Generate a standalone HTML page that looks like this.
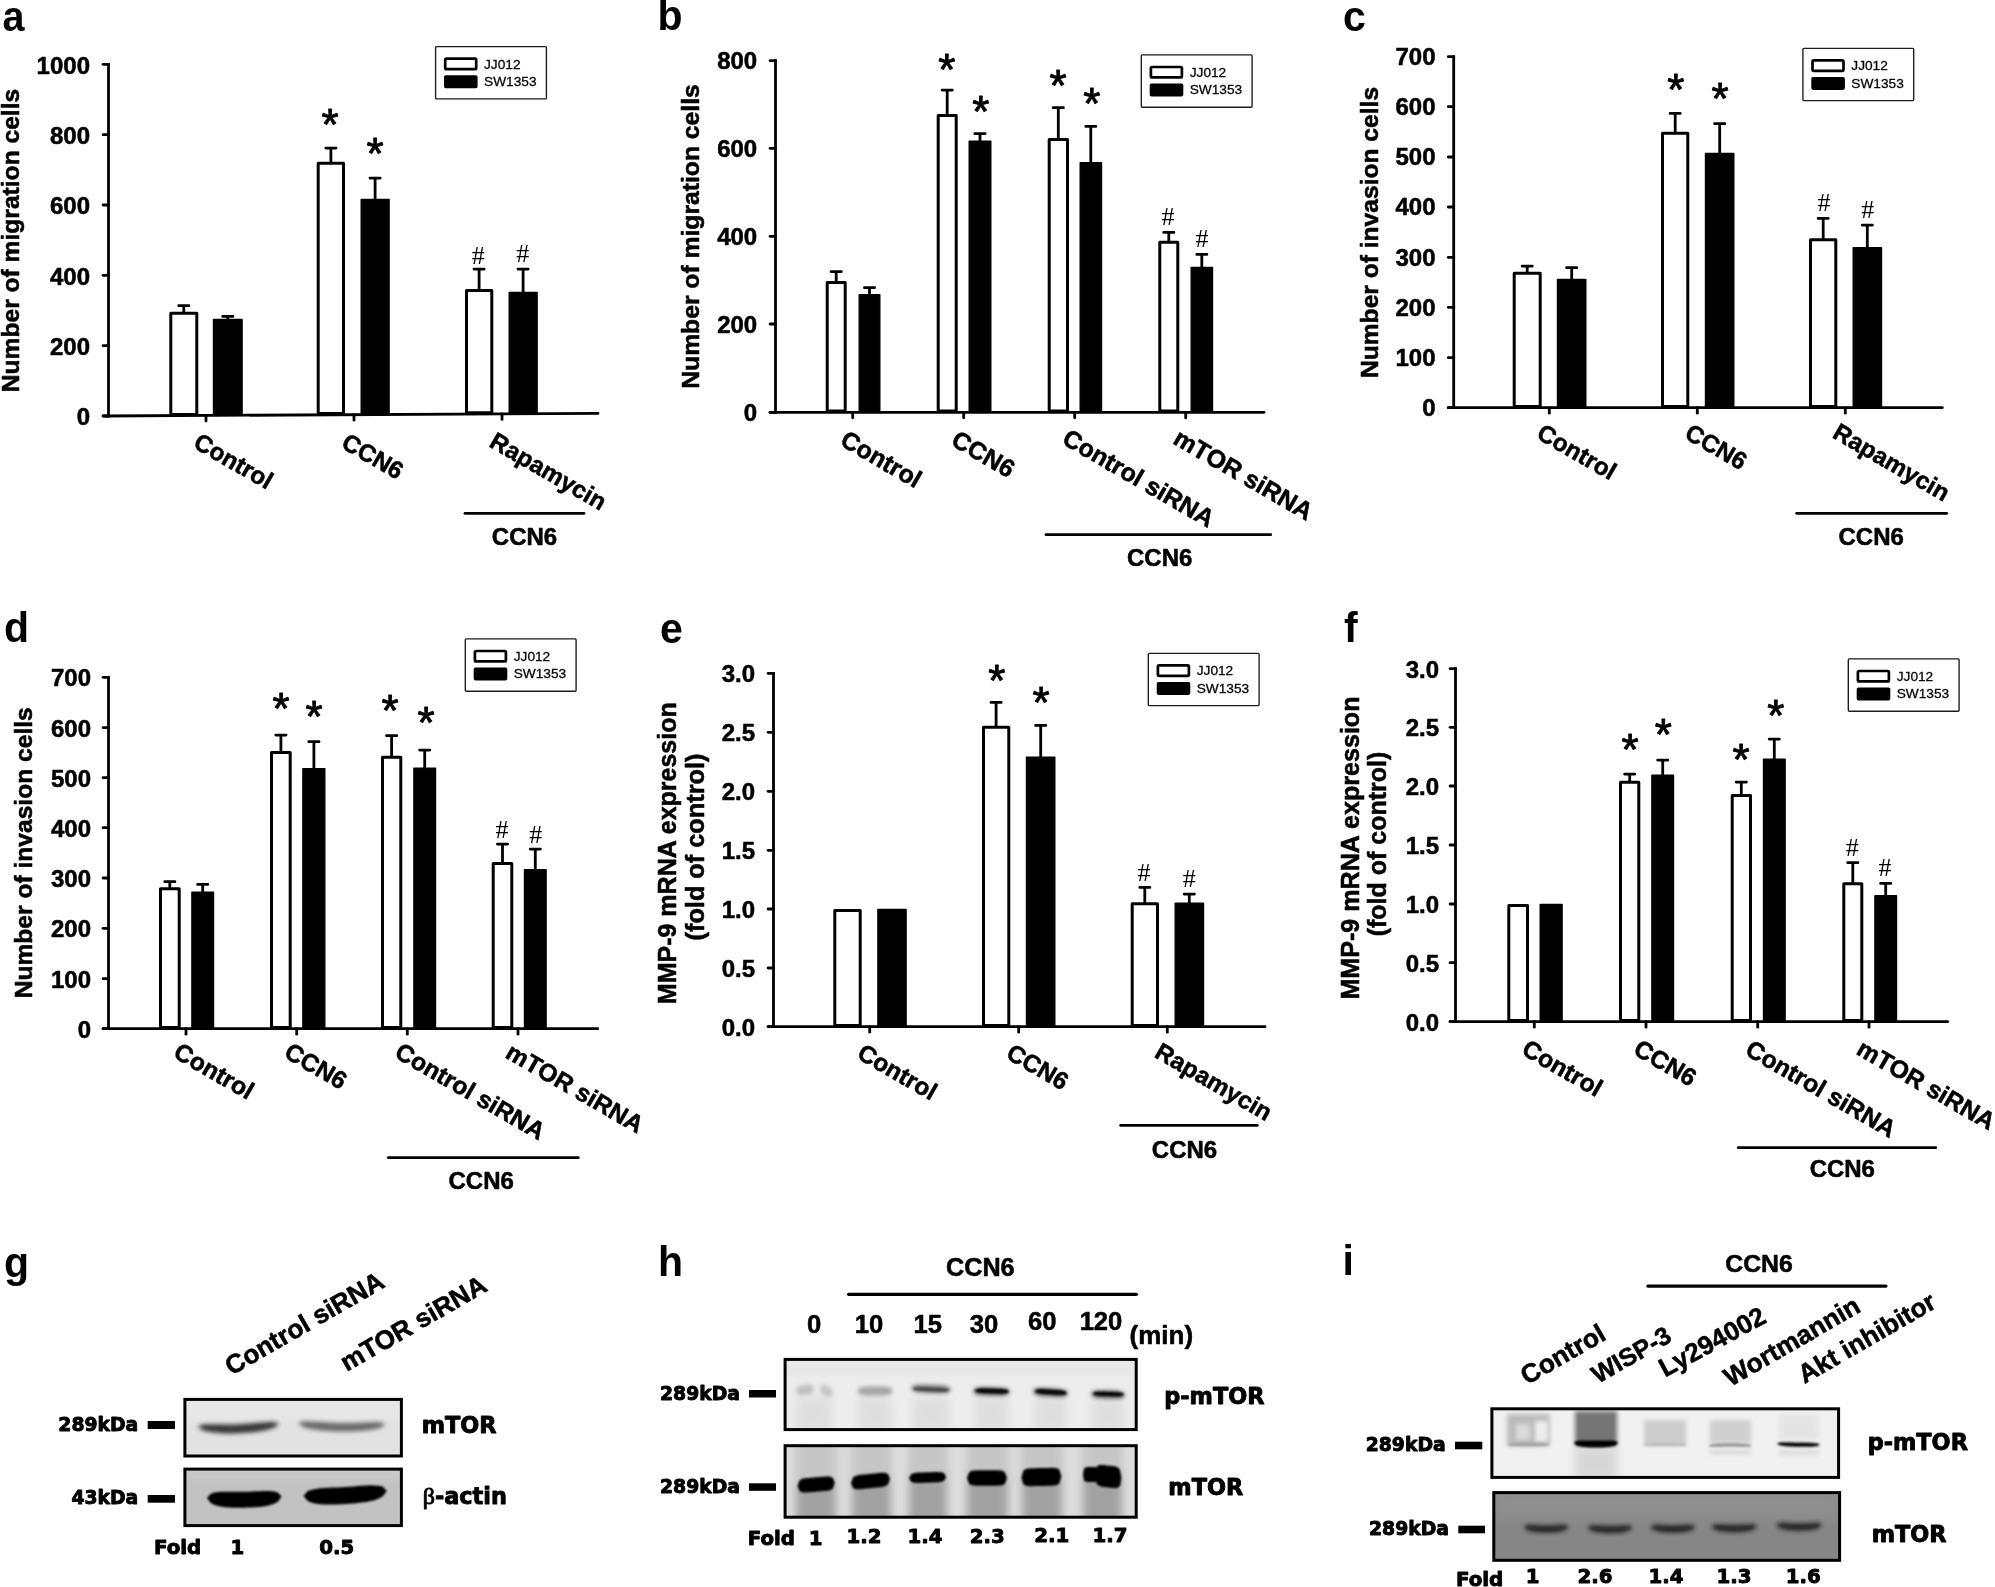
<!DOCTYPE html>
<html lang="en"><head><meta charset="utf-8"><title>Figure</title>
<style>html,body{margin:0;padding:0;background:#fff}svg{display:block}text{fill:#000}</style>
</head><body>
<svg width="1995" height="1587" viewBox="0 0 1995 1587">
<defs>
<filter id="b1" x="-50%" y="-200%" width="200%" height="500%"><feGaussianBlur stdDeviation="1.2"/></filter>
<filter id="b2" x="-50%" y="-200%" width="200%" height="500%"><feGaussianBlur stdDeviation="2.2"/></filter>
<filter id="b3" x="-50%" y="-200%" width="200%" height="500%"><feGaussianBlur stdDeviation="4"/></filter>
<filter id="b6" x="-50%" y="-200%" width="200%" height="500%"><feGaussianBlur stdDeviation="7"/></filter>
<filter id="soft" filterUnits="userSpaceOnUse" x="0" y="0" width="1995" height="1587"><feGaussianBlur stdDeviation="0.45"/></filter>
</defs>
<rect width="1995" height="1587" fill="#fff"/>
<g filter="url(#soft)">
<g id="chart-a">
<path d="M183.8 311.7V305.7M178.7 305.7H188.9" stroke="#000" stroke-width="2.8" stroke-linecap="round" fill="none"/>
<rect x="170.8" y="313.2" width="26.0" height="101.2" fill="#fff" stroke="#000" stroke-width="3.0" stroke-linejoin="round"/>
<path d="M227.8 319.0V316.4M222.7 316.4H232.9" stroke="#000" stroke-width="2.8" stroke-linecap="round" fill="none"/>
<rect x="213.5" y="319.4" width="28.6" height="96.0" fill="#000" stroke="#000" stroke-width="1.4" stroke-linejoin="round"/>
<path d="M330.9 161.7V148.1M325.8 148.1H336.0" stroke="#000" stroke-width="2.8" stroke-linecap="round" fill="none"/>
<rect x="318.2" y="163.2" width="25.3" height="250.4" fill="#fff" stroke="#000" stroke-width="3.0" stroke-linejoin="round"/>
<path d="M375.1 199.0V178.1M370.0 178.1H380.2" stroke="#000" stroke-width="2.8" stroke-linecap="round" fill="none"/>
<rect x="361.2" y="199.4" width="27.9" height="215.2" fill="#000" stroke="#000" stroke-width="1.4" stroke-linejoin="round"/>
<path d="M479.1 289.0V269.1M474.0 269.1H484.2" stroke="#000" stroke-width="2.8" stroke-linecap="round" fill="none"/>
<rect x="466.5" y="290.5" width="25.3" height="122.3" fill="#fff" stroke="#000" stroke-width="3.0" stroke-linejoin="round"/>
<path d="M523.1 292.0V269.1M518.0 269.1H528.2" stroke="#000" stroke-width="2.8" stroke-linecap="round" fill="none"/>
<rect x="509.2" y="292.4" width="27.9" height="121.4" fill="#000" stroke="#000" stroke-width="1.4" stroke-linejoin="round"/>
<path d="M108.5 62.9V417.4" stroke="#000" stroke-width="2.8" fill="none"/>
<path d="M103.1 416.0L598.0 413.4" stroke="#000" stroke-width="2.8" stroke-linecap="round" fill="none"/>
<path d="M103.1 64.3H108.5" stroke="#000" stroke-width="2.8" stroke-linecap="round"/>
<text x="90.0" y="73.6" text-anchor="end" font-size="24" font-family="Liberation Sans, Arial, sans-serif" font-weight="bold" stroke="#000" stroke-width="0.55" stroke-linejoin="round">1000</text>
<path d="M103.1 134.7H108.5" stroke="#000" stroke-width="2.8" stroke-linecap="round"/>
<text x="90.0" y="144.0" text-anchor="end" font-size="24" font-family="Liberation Sans, Arial, sans-serif" font-weight="bold" stroke="#000" stroke-width="0.55" stroke-linejoin="round">800</text>
<path d="M103.1 205.0H108.5" stroke="#000" stroke-width="2.8" stroke-linecap="round"/>
<text x="90.0" y="214.3" text-anchor="end" font-size="24" font-family="Liberation Sans, Arial, sans-serif" font-weight="bold" stroke="#000" stroke-width="0.55" stroke-linejoin="round">600</text>
<path d="M103.1 275.3H108.5" stroke="#000" stroke-width="2.8" stroke-linecap="round"/>
<text x="90.0" y="284.6" text-anchor="end" font-size="24" font-family="Liberation Sans, Arial, sans-serif" font-weight="bold" stroke="#000" stroke-width="0.55" stroke-linejoin="round">400</text>
<path d="M103.1 345.7H108.5" stroke="#000" stroke-width="2.8" stroke-linecap="round"/>
<text x="90.0" y="355.0" text-anchor="end" font-size="24" font-family="Liberation Sans, Arial, sans-serif" font-weight="bold" stroke="#000" stroke-width="0.55" stroke-linejoin="round">200</text>
<path d="M103.1 416.0H108.5" stroke="#000" stroke-width="2.8" stroke-linecap="round"/>
<text x="90.0" y="425.3" text-anchor="end" font-size="24" font-family="Liberation Sans, Arial, sans-serif" font-weight="bold" stroke="#000" stroke-width="0.55" stroke-linejoin="round">0</text>
<path d="M206.0 415.5V421.0" stroke="#000" stroke-width="2.8" stroke-linecap="round"/>
<path d="M354.0 414.7V420.2" stroke="#000" stroke-width="2.8" stroke-linecap="round"/>
<path d="M502.0 413.9V419.4" stroke="#000" stroke-width="2.8" stroke-linecap="round"/>
<text x="330.0" y="140.0" text-anchor="middle" font-size="44" font-family="Liberation Sans, Arial, sans-serif" stroke="#000" stroke-width="0.9" stroke-linejoin="round">*</text>
<text x="375.0" y="169.0" text-anchor="middle" font-size="44" font-family="Liberation Sans, Arial, sans-serif" stroke="#000" stroke-width="0.9" stroke-linejoin="round">*</text>
<text x="478.3" y="263.6" text-anchor="middle" font-size="26" font-family="Liberation Serif, Times New Roman, serif">#</text>
<text x="522.7" y="262.3" text-anchor="middle" font-size="26" font-family="Liberation Serif, Times New Roman, serif">#</text>
<rect x="435.6" y="46.6" width="110.8" height="52.3" rx="1" fill="#fff" stroke="#1a1a1a" stroke-width="1.35"/>
<rect x="445.2" y="58.7" width="31" height="10.4" rx="1.2" fill="#fff" stroke="#000" stroke-width="2.7"/>
<rect x="444.0" y="75.2" width="33.6" height="13" rx="1.8" fill="#000"/>
<text x="484.0" y="68.6" font-size="13.7" font-family="Liberation Sans, Arial, sans-serif" fill="#111" stroke="#111" stroke-width="0.3">JJ012</text>
<text x="484.0" y="86.0" font-size="13.7" font-family="Liberation Sans, Arial, sans-serif" fill="#111" stroke="#111" stroke-width="0.3">SW1353</text>
<text transform="translate(18.6 240.5) rotate(-90)" text-anchor="middle" font-size="24.6" font-family="Liberation Sans, Arial, sans-serif" font-weight="bold" stroke="#000" stroke-width="0.55" stroke-linejoin="round">Number of migration cells</text>
<text transform="translate(192.0 446.7) rotate(30)" font-size="24.3" font-family="Liberation Sans, Arial, sans-serif" font-weight="bold" stroke="#000" stroke-width="0.55" stroke-linejoin="round">Control</text>
<text transform="translate(340.0 447.0) rotate(30)" font-size="24.3" font-family="Liberation Sans, Arial, sans-serif" font-weight="bold" stroke="#000" stroke-width="0.55" stroke-linejoin="round">CCN6</text>
<text transform="translate(488.0 446.0) rotate(30)" font-size="24.3" font-family="Liberation Sans, Arial, sans-serif" font-weight="bold" stroke="#000" stroke-width="0.55" stroke-linejoin="round">Rapamycin</text>
<path d="M465.0 513.3H584.0" stroke="#000" stroke-width="2.8" stroke-linecap="round"/>
<text x="524.5" y="545.0" text-anchor="middle" font-size="24" font-family="Liberation Sans, Arial, sans-serif" font-weight="bold" stroke="#000" stroke-width="0.55" stroke-linejoin="round">CCN6</text>
<text transform="translate(2.6 30.7) scale(0.93 1)" font-size="42.5" font-family="Liberation Sans, Arial, sans-serif" font-weight="bold">a</text>
</g>
<g id="chart-b">
<path d="M836.2 281.0V271.7M831.1 271.7H841.3" stroke="#000" stroke-width="2.8" stroke-linecap="round" fill="none"/>
<rect x="827.2" y="282.5" width="18.0" height="128.6" fill="#fff" stroke="#000" stroke-width="3.0" stroke-linejoin="round"/>
<path d="M869.5 294.3V287.7M864.4 287.7H874.6" stroke="#000" stroke-width="2.8" stroke-linecap="round" fill="none"/>
<rect x="859.2" y="294.7" width="20.6" height="117.6" fill="#000" stroke="#000" stroke-width="1.4" stroke-linejoin="round"/>
<path d="M947.2 114.0V90.1M942.1 90.1H952.3" stroke="#000" stroke-width="2.8" stroke-linecap="round" fill="none"/>
<rect x="938.2" y="115.5" width="18.0" height="295.6" fill="#fff" stroke="#000" stroke-width="3.0" stroke-linejoin="round"/>
<path d="M980.0 140.7V133.7M974.9 133.7H985.1" stroke="#000" stroke-width="2.8" stroke-linecap="round" fill="none"/>
<rect x="969.2" y="141.1" width="21.6" height="271.2" fill="#000" stroke="#000" stroke-width="1.4" stroke-linejoin="round"/>
<path d="M1058.3 138.0V107.7M1053.2 107.7H1063.4" stroke="#000" stroke-width="2.8" stroke-linecap="round" fill="none"/>
<rect x="1049.2" y="139.5" width="18.3" height="271.6" fill="#fff" stroke="#000" stroke-width="3.0" stroke-linejoin="round"/>
<path d="M1090.8 162.3V126.4M1085.8 126.4H1095.9" stroke="#000" stroke-width="2.8" stroke-linecap="round" fill="none"/>
<rect x="1080.2" y="162.7" width="21.3" height="249.6" fill="#000" stroke="#000" stroke-width="1.4" stroke-linejoin="round"/>
<path d="M1168.8 240.7V232.4M1163.7 232.4H1173.9" stroke="#000" stroke-width="2.8" stroke-linecap="round" fill="none"/>
<rect x="1159.8" y="242.2" width="18.0" height="168.9" fill="#fff" stroke="#000" stroke-width="3.0" stroke-linejoin="round"/>
<path d="M1201.8 267.0V254.4M1196.8 254.4H1206.9" stroke="#000" stroke-width="2.8" stroke-linecap="round" fill="none"/>
<rect x="1191.2" y="267.4" width="21.3" height="144.9" fill="#000" stroke="#000" stroke-width="1.4" stroke-linejoin="round"/>
<path d="M775.5 59.3V413.7" stroke="#000" stroke-width="2.8" fill="none"/>
<path d="M770.1 412.3L1264.0 412.3" stroke="#000" stroke-width="2.8" stroke-linecap="round" fill="none"/>
<path d="M770.1 60.7H775.5" stroke="#000" stroke-width="2.8" stroke-linecap="round"/>
<text x="757.2" y="69.3" text-anchor="end" font-size="24" font-family="Liberation Sans, Arial, sans-serif" font-weight="bold" stroke="#000" stroke-width="0.55" stroke-linejoin="round">800</text>
<path d="M770.1 148.3H775.5" stroke="#000" stroke-width="2.8" stroke-linecap="round"/>
<text x="757.2" y="156.9" text-anchor="end" font-size="24" font-family="Liberation Sans, Arial, sans-serif" font-weight="bold" stroke="#000" stroke-width="0.55" stroke-linejoin="round">600</text>
<path d="M770.1 236.3H775.5" stroke="#000" stroke-width="2.8" stroke-linecap="round"/>
<text x="757.2" y="244.9" text-anchor="end" font-size="24" font-family="Liberation Sans, Arial, sans-serif" font-weight="bold" stroke="#000" stroke-width="0.55" stroke-linejoin="round">400</text>
<path d="M770.1 324.0H775.5" stroke="#000" stroke-width="2.8" stroke-linecap="round"/>
<text x="757.2" y="332.6" text-anchor="end" font-size="24" font-family="Liberation Sans, Arial, sans-serif" font-weight="bold" stroke="#000" stroke-width="0.55" stroke-linejoin="round">200</text>
<path d="M770.1 412.3H775.5" stroke="#000" stroke-width="2.8" stroke-linecap="round"/>
<text x="757.2" y="420.9" text-anchor="end" font-size="24" font-family="Liberation Sans, Arial, sans-serif" font-weight="bold" stroke="#000" stroke-width="0.55" stroke-linejoin="round">0</text>
<path d="M852.7 412.3V417.8" stroke="#000" stroke-width="2.8" stroke-linecap="round"/>
<path d="M963.7 412.3V417.8" stroke="#000" stroke-width="2.8" stroke-linecap="round"/>
<path d="M1074.7 412.3V417.8" stroke="#000" stroke-width="2.8" stroke-linecap="round"/>
<path d="M1185.7 412.3V417.8" stroke="#000" stroke-width="2.8" stroke-linecap="round"/>
<text x="946.7" y="85.0" text-anchor="middle" font-size="44" font-family="Liberation Sans, Arial, sans-serif" stroke="#000" stroke-width="0.9" stroke-linejoin="round">*</text>
<text x="980.7" y="127.0" text-anchor="middle" font-size="44" font-family="Liberation Sans, Arial, sans-serif" stroke="#000" stroke-width="0.9" stroke-linejoin="round">*</text>
<text x="1058.0" y="101.0" text-anchor="middle" font-size="44" font-family="Liberation Sans, Arial, sans-serif" stroke="#000" stroke-width="0.9" stroke-linejoin="round">*</text>
<text x="1091.7" y="118.7" text-anchor="middle" font-size="44" font-family="Liberation Sans, Arial, sans-serif" stroke="#000" stroke-width="0.9" stroke-linejoin="round">*</text>
<text x="1168.0" y="225.3" text-anchor="middle" font-size="26" font-family="Liberation Serif, Times New Roman, serif">#</text>
<text x="1202.0" y="246.6" text-anchor="middle" font-size="26" font-family="Liberation Serif, Times New Roman, serif">#</text>
<rect x="1141.3" y="54.9" width="110.8" height="52.3" rx="1" fill="#fff" stroke="#1a1a1a" stroke-width="1.35"/>
<rect x="1150.9" y="67.0" width="31" height="10.4" rx="1.2" fill="#fff" stroke="#000" stroke-width="2.7"/>
<rect x="1149.7" y="83.5" width="33.6" height="13" rx="1.8" fill="#000"/>
<text x="1189.7" y="76.9" font-size="13.7" font-family="Liberation Sans, Arial, sans-serif" fill="#111" stroke="#111" stroke-width="0.3">JJ012</text>
<text x="1189.7" y="94.3" font-size="13.7" font-family="Liberation Sans, Arial, sans-serif" fill="#111" stroke="#111" stroke-width="0.3">SW1353</text>
<text transform="translate(699.2 236.5) rotate(-90)" text-anchor="middle" font-size="24.7" font-family="Liberation Sans, Arial, sans-serif" font-weight="bold" stroke="#000" stroke-width="0.55" stroke-linejoin="round">Number of migration cells</text>
<text transform="translate(838.7 444.5) rotate(30)" font-size="24.9" font-family="Liberation Sans, Arial, sans-serif" font-weight="bold" stroke="#000" stroke-width="0.55" stroke-linejoin="round">Control</text>
<text transform="translate(949.7 444.5) rotate(30)" font-size="24.9" font-family="Liberation Sans, Arial, sans-serif" font-weight="bold" stroke="#000" stroke-width="0.55" stroke-linejoin="round">CCN6</text>
<text transform="translate(1060.7 443.0) rotate(30)" font-size="24.9" font-family="Liberation Sans, Arial, sans-serif" font-weight="bold" stroke="#000" stroke-width="0.55" stroke-linejoin="round">Control siRNA</text>
<text transform="translate(1171.7 443.0) rotate(30)" font-size="24.9" font-family="Liberation Sans, Arial, sans-serif" font-weight="bold" stroke="#000" stroke-width="0.55" stroke-linejoin="round">mTOR siRNA</text>
<path d="M1046.0 534.7H1270.7" stroke="#000" stroke-width="2.8" stroke-linecap="round"/>
<text x="1159.7" y="565.7" text-anchor="middle" font-size="24" font-family="Liberation Sans, Arial, sans-serif" font-weight="bold" stroke="#000" stroke-width="0.55" stroke-linejoin="round">CCN6</text>
<text transform="translate(657.4 30.0) scale(0.965 1)" font-size="42.5" font-family="Liberation Sans, Arial, sans-serif" font-weight="bold">b</text>
</g>
<g id="chart-c">
<path d="M1527.2 271.7V266.1M1522.1 266.1H1532.3" stroke="#000" stroke-width="2.8" stroke-linecap="round" fill="none"/>
<rect x="1514.2" y="273.2" width="26.0" height="133.3" fill="#fff" stroke="#000" stroke-width="3.0" stroke-linejoin="round"/>
<path d="M1571.7 279.0V267.7M1566.6 267.7H1576.8" stroke="#000" stroke-width="2.8" stroke-linecap="round" fill="none"/>
<rect x="1557.5" y="279.4" width="28.3" height="128.3" fill="#000" stroke="#000" stroke-width="1.4" stroke-linejoin="round"/>
<path d="M1675.2 131.7V113.4M1670.1 113.4H1680.2" stroke="#000" stroke-width="2.8" stroke-linecap="round" fill="none"/>
<rect x="1662.5" y="133.2" width="25.3" height="273.3" fill="#fff" stroke="#000" stroke-width="3.0" stroke-linejoin="round"/>
<path d="M1719.7 153.0V123.7M1714.6 123.7H1724.8" stroke="#000" stroke-width="2.8" stroke-linecap="round" fill="none"/>
<rect x="1705.5" y="153.4" width="28.3" height="254.3" fill="#000" stroke="#000" stroke-width="1.4" stroke-linejoin="round"/>
<path d="M1823.2 238.3V218.4M1818.1 218.4H1828.2" stroke="#000" stroke-width="2.8" stroke-linecap="round" fill="none"/>
<rect x="1810.5" y="239.8" width="25.3" height="166.7" fill="#fff" stroke="#000" stroke-width="3.0" stroke-linejoin="round"/>
<path d="M1867.3 247.3V225.1M1862.2 225.1H1872.4" stroke="#000" stroke-width="2.8" stroke-linecap="round" fill="none"/>
<rect x="1853.2" y="247.7" width="28.3" height="160.0" fill="#000" stroke="#000" stroke-width="1.4" stroke-linejoin="round"/>
<path d="M1453.7 55.3V409.1" stroke="#000" stroke-width="2.8" fill="none"/>
<path d="M1448.3 407.7L1942.3 407.7" stroke="#000" stroke-width="2.8" stroke-linecap="round" fill="none"/>
<path d="M1448.3 56.7H1453.7" stroke="#000" stroke-width="2.8" stroke-linecap="round"/>
<text x="1435.5" y="64.9" text-anchor="end" font-size="24" font-family="Liberation Sans, Arial, sans-serif" font-weight="bold" stroke="#000" stroke-width="0.55" stroke-linejoin="round">700</text>
<path d="M1448.3 106.7H1453.7" stroke="#000" stroke-width="2.8" stroke-linecap="round"/>
<text x="1435.5" y="114.9" text-anchor="end" font-size="24" font-family="Liberation Sans, Arial, sans-serif" font-weight="bold" stroke="#000" stroke-width="0.55" stroke-linejoin="round">600</text>
<path d="M1448.3 157.0H1453.7" stroke="#000" stroke-width="2.8" stroke-linecap="round"/>
<text x="1435.5" y="165.2" text-anchor="end" font-size="24" font-family="Liberation Sans, Arial, sans-serif" font-weight="bold" stroke="#000" stroke-width="0.55" stroke-linejoin="round">500</text>
<path d="M1448.3 207.0H1453.7" stroke="#000" stroke-width="2.8" stroke-linecap="round"/>
<text x="1435.5" y="215.2" text-anchor="end" font-size="24" font-family="Liberation Sans, Arial, sans-serif" font-weight="bold" stroke="#000" stroke-width="0.55" stroke-linejoin="round">400</text>
<path d="M1448.3 257.3H1453.7" stroke="#000" stroke-width="2.8" stroke-linecap="round"/>
<text x="1435.5" y="265.5" text-anchor="end" font-size="24" font-family="Liberation Sans, Arial, sans-serif" font-weight="bold" stroke="#000" stroke-width="0.55" stroke-linejoin="round">300</text>
<path d="M1448.3 307.3H1453.7" stroke="#000" stroke-width="2.8" stroke-linecap="round"/>
<text x="1435.5" y="315.5" text-anchor="end" font-size="24" font-family="Liberation Sans, Arial, sans-serif" font-weight="bold" stroke="#000" stroke-width="0.55" stroke-linejoin="round">200</text>
<path d="M1448.3 357.7H1453.7" stroke="#000" stroke-width="2.8" stroke-linecap="round"/>
<text x="1435.5" y="365.9" text-anchor="end" font-size="24" font-family="Liberation Sans, Arial, sans-serif" font-weight="bold" stroke="#000" stroke-width="0.55" stroke-linejoin="round">100</text>
<path d="M1448.3 407.7H1453.7" stroke="#000" stroke-width="2.8" stroke-linecap="round"/>
<text x="1435.5" y="415.9" text-anchor="end" font-size="24" font-family="Liberation Sans, Arial, sans-serif" font-weight="bold" stroke="#000" stroke-width="0.55" stroke-linejoin="round">0</text>
<path d="M1549.3 407.7V413.2" stroke="#000" stroke-width="2.8" stroke-linecap="round"/>
<path d="M1697.3 407.7V413.2" stroke="#000" stroke-width="2.8" stroke-linecap="round"/>
<path d="M1845.3 407.7V413.2" stroke="#000" stroke-width="2.8" stroke-linecap="round"/>
<text x="1675.7" y="105.3" text-anchor="middle" font-size="44" font-family="Liberation Sans, Arial, sans-serif" stroke="#000" stroke-width="0.9" stroke-linejoin="round">*</text>
<text x="1720.0" y="113.7" text-anchor="middle" font-size="44" font-family="Liberation Sans, Arial, sans-serif" stroke="#000" stroke-width="0.9" stroke-linejoin="round">*</text>
<text x="1824.0" y="211.3" text-anchor="middle" font-size="26" font-family="Liberation Serif, Times New Roman, serif">#</text>
<text x="1867.7" y="217.9" text-anchor="middle" font-size="26" font-family="Liberation Serif, Times New Roman, serif">#</text>
<rect x="1802.9" y="48.3" width="110.8" height="52.3" rx="1" fill="#fff" stroke="#1a1a1a" stroke-width="1.35"/>
<rect x="1812.5" y="60.4" width="31" height="10.4" rx="1.2" fill="#fff" stroke="#000" stroke-width="2.7"/>
<rect x="1811.3" y="76.9" width="33.6" height="13" rx="1.8" fill="#000"/>
<text x="1851.3" y="70.3" font-size="13.7" font-family="Liberation Sans, Arial, sans-serif" fill="#111" stroke="#111" stroke-width="0.3">JJ012</text>
<text x="1851.3" y="87.7" font-size="13.7" font-family="Liberation Sans, Arial, sans-serif" fill="#111" stroke="#111" stroke-width="0.3">SW1353</text>
<text transform="translate(1378.0 232.5) rotate(-90)" text-anchor="middle" font-size="24.6" font-family="Liberation Sans, Arial, sans-serif" font-weight="bold" stroke="#000" stroke-width="0.55" stroke-linejoin="round">Number of invasion cells</text>
<text transform="translate(1535.3 437.5) rotate(30)" font-size="24.3" font-family="Liberation Sans, Arial, sans-serif" font-weight="bold" stroke="#000" stroke-width="0.55" stroke-linejoin="round">Control</text>
<text transform="translate(1683.3 437.5) rotate(30)" font-size="24.3" font-family="Liberation Sans, Arial, sans-serif" font-weight="bold" stroke="#000" stroke-width="0.55" stroke-linejoin="round">CCN6</text>
<text transform="translate(1831.3 437.0) rotate(30)" font-size="24.3" font-family="Liberation Sans, Arial, sans-serif" font-weight="bold" stroke="#000" stroke-width="0.55" stroke-linejoin="round">Rapamycin</text>
<path d="M1796.7 513.3H1946.7" stroke="#000" stroke-width="2.8" stroke-linecap="round"/>
<text x="1871.2" y="545.0" text-anchor="middle" font-size="24" font-family="Liberation Sans, Arial, sans-serif" font-weight="bold" stroke="#000" stroke-width="0.55" stroke-linejoin="round">CCN6</text>
<text transform="translate(1343.0 31.0) scale(0.965 1)" font-size="42.5" font-family="Liberation Sans, Arial, sans-serif" font-weight="bold">c</text>
</g>
<g id="chart-d">
<path d="M169.8 887.3V881.7M164.8 881.7H174.9" stroke="#000" stroke-width="2.8" stroke-linecap="round" fill="none"/>
<rect x="160.5" y="888.8" width="18.7" height="138.7" fill="#fff" stroke="#000" stroke-width="3.0" stroke-linejoin="round"/>
<path d="M202.7 891.7V884.4M197.6 884.4H207.8" stroke="#000" stroke-width="2.8" stroke-linecap="round" fill="none"/>
<rect x="191.9" y="892.1" width="21.6" height="136.6" fill="#000" stroke="#000" stroke-width="1.4" stroke-linejoin="round"/>
<path d="M280.9 751.0V735.1M275.8 735.1H286.0" stroke="#000" stroke-width="2.8" stroke-linecap="round" fill="none"/>
<rect x="271.5" y="752.5" width="18.7" height="275.0" fill="#fff" stroke="#000" stroke-width="3.0" stroke-linejoin="round"/>
<path d="M313.9 768.3V741.7M308.8 741.7H319.0" stroke="#000" stroke-width="2.8" stroke-linecap="round" fill="none"/>
<rect x="302.9" y="768.7" width="21.9" height="260.0" fill="#000" stroke="#000" stroke-width="1.4" stroke-linejoin="round"/>
<path d="M391.6 755.7V735.7M386.5 735.7H396.8" stroke="#000" stroke-width="2.8" stroke-linecap="round" fill="none"/>
<rect x="382.5" y="757.2" width="18.3" height="270.3" fill="#fff" stroke="#000" stroke-width="3.0" stroke-linejoin="round"/>
<path d="M424.7 767.7V750.1M419.6 750.1H429.8" stroke="#000" stroke-width="2.8" stroke-linecap="round" fill="none"/>
<rect x="413.9" y="768.1" width="21.6" height="260.6" fill="#000" stroke="#000" stroke-width="1.4" stroke-linejoin="round"/>
<path d="M502.5 862.0V844.1M497.4 844.1H507.6" stroke="#000" stroke-width="2.8" stroke-linecap="round" fill="none"/>
<rect x="493.2" y="863.5" width="18.6" height="164.0" fill="#fff" stroke="#000" stroke-width="3.0" stroke-linejoin="round"/>
<path d="M535.3 869.3V849.1M530.2 849.1H540.4" stroke="#000" stroke-width="2.8" stroke-linecap="round" fill="none"/>
<rect x="524.5" y="869.7" width="21.6" height="159.0" fill="#000" stroke="#000" stroke-width="1.4" stroke-linejoin="round"/>
<path d="M108.5 675.9V1030.1" stroke="#000" stroke-width="2.8" fill="none"/>
<path d="M103.1 1028.7L597.7 1028.7" stroke="#000" stroke-width="2.8" stroke-linecap="round" fill="none"/>
<path d="M103.1 677.3H108.5" stroke="#000" stroke-width="2.8" stroke-linecap="round"/>
<text x="91.0" y="686.1" text-anchor="end" font-size="24" font-family="Liberation Sans, Arial, sans-serif" font-weight="bold" stroke="#000" stroke-width="0.55" stroke-linejoin="round">700</text>
<path d="M103.1 727.7H108.5" stroke="#000" stroke-width="2.8" stroke-linecap="round"/>
<text x="91.0" y="736.5" text-anchor="end" font-size="24" font-family="Liberation Sans, Arial, sans-serif" font-weight="bold" stroke="#000" stroke-width="0.55" stroke-linejoin="round">600</text>
<path d="M103.1 777.7H108.5" stroke="#000" stroke-width="2.8" stroke-linecap="round"/>
<text x="91.0" y="786.5" text-anchor="end" font-size="24" font-family="Liberation Sans, Arial, sans-serif" font-weight="bold" stroke="#000" stroke-width="0.55" stroke-linejoin="round">500</text>
<path d="M103.1 827.7H108.5" stroke="#000" stroke-width="2.8" stroke-linecap="round"/>
<text x="91.0" y="836.5" text-anchor="end" font-size="24" font-family="Liberation Sans, Arial, sans-serif" font-weight="bold" stroke="#000" stroke-width="0.55" stroke-linejoin="round">400</text>
<path d="M103.1 878.0H108.5" stroke="#000" stroke-width="2.8" stroke-linecap="round"/>
<text x="91.0" y="886.8" text-anchor="end" font-size="24" font-family="Liberation Sans, Arial, sans-serif" font-weight="bold" stroke="#000" stroke-width="0.55" stroke-linejoin="round">300</text>
<path d="M103.1 928.3H108.5" stroke="#000" stroke-width="2.8" stroke-linecap="round"/>
<text x="91.0" y="937.1" text-anchor="end" font-size="24" font-family="Liberation Sans, Arial, sans-serif" font-weight="bold" stroke="#000" stroke-width="0.55" stroke-linejoin="round">200</text>
<path d="M103.1 978.7H108.5" stroke="#000" stroke-width="2.8" stroke-linecap="round"/>
<text x="91.0" y="987.5" text-anchor="end" font-size="24" font-family="Liberation Sans, Arial, sans-serif" font-weight="bold" stroke="#000" stroke-width="0.55" stroke-linejoin="round">100</text>
<path d="M103.1 1028.7H108.5" stroke="#000" stroke-width="2.8" stroke-linecap="round"/>
<text x="91.0" y="1037.5" text-anchor="end" font-size="24" font-family="Liberation Sans, Arial, sans-serif" font-weight="bold" stroke="#000" stroke-width="0.55" stroke-linejoin="round">0</text>
<path d="M186.0 1028.7V1034.2" stroke="#000" stroke-width="2.8" stroke-linecap="round"/>
<path d="M296.7 1028.7V1034.2" stroke="#000" stroke-width="2.8" stroke-linecap="round"/>
<path d="M407.3 1028.7V1034.2" stroke="#000" stroke-width="2.8" stroke-linecap="round"/>
<path d="M518.0 1028.7V1034.2" stroke="#000" stroke-width="2.8" stroke-linecap="round"/>
<text x="281.0" y="723.7" text-anchor="middle" font-size="44" font-family="Liberation Sans, Arial, sans-serif" stroke="#000" stroke-width="0.9" stroke-linejoin="round">*</text>
<text x="314.0" y="732.0" text-anchor="middle" font-size="44" font-family="Liberation Sans, Arial, sans-serif" stroke="#000" stroke-width="0.9" stroke-linejoin="round">*</text>
<text x="390.0" y="726.3" text-anchor="middle" font-size="44" font-family="Liberation Sans, Arial, sans-serif" stroke="#000" stroke-width="0.9" stroke-linejoin="round">*</text>
<text x="426.0" y="737.7" text-anchor="middle" font-size="44" font-family="Liberation Sans, Arial, sans-serif" stroke="#000" stroke-width="0.9" stroke-linejoin="round">*</text>
<text x="502.0" y="837.6" text-anchor="middle" font-size="26" font-family="Liberation Serif, Times New Roman, serif">#</text>
<text x="535.7" y="842.9" text-anchor="middle" font-size="26" font-family="Liberation Serif, Times New Roman, serif">#</text>
<rect x="465.3" y="638.9" width="110.8" height="52.3" rx="1" fill="#fff" stroke="#1a1a1a" stroke-width="1.35"/>
<rect x="474.9" y="651.0" width="31" height="10.4" rx="1.2" fill="#fff" stroke="#000" stroke-width="2.7"/>
<rect x="473.7" y="667.5" width="33.6" height="13" rx="1.8" fill="#000"/>
<text x="513.7" y="660.9" font-size="13.7" font-family="Liberation Sans, Arial, sans-serif" fill="#111" stroke="#111" stroke-width="0.3">JJ012</text>
<text x="513.7" y="678.3" font-size="13.7" font-family="Liberation Sans, Arial, sans-serif" fill="#111" stroke="#111" stroke-width="0.3">SW1353</text>
<text transform="translate(32.0 852.8) rotate(-90)" text-anchor="middle" font-size="24.6" font-family="Liberation Sans, Arial, sans-serif" font-weight="bold" stroke="#000" stroke-width="0.55" stroke-linejoin="round">Number of invasion cells</text>
<text transform="translate(172.0 1056.5) rotate(30)" font-size="24.6" font-family="Liberation Sans, Arial, sans-serif" font-weight="bold" stroke="#000" stroke-width="0.55" stroke-linejoin="round">Control</text>
<text transform="translate(282.7 1056.5) rotate(30)" font-size="24.6" font-family="Liberation Sans, Arial, sans-serif" font-weight="bold" stroke="#000" stroke-width="0.55" stroke-linejoin="round">CCN6</text>
<text transform="translate(393.3 1056.5) rotate(30)" font-size="24.6" font-family="Liberation Sans, Arial, sans-serif" font-weight="bold" stroke="#000" stroke-width="0.55" stroke-linejoin="round">Control siRNA</text>
<text transform="translate(504.0 1057.0) rotate(30)" font-size="24.6" font-family="Liberation Sans, Arial, sans-serif" font-weight="bold" stroke="#000" stroke-width="0.55" stroke-linejoin="round">mTOR siRNA</text>
<path d="M388.3 1157.7H578.3" stroke="#000" stroke-width="2.8" stroke-linecap="round"/>
<text x="481.2" y="1189.3" text-anchor="middle" font-size="24" font-family="Liberation Sans, Arial, sans-serif" font-weight="bold" stroke="#000" stroke-width="0.55" stroke-linejoin="round">CCN6</text>
<text transform="translate(4.0 641.7) scale(0.965 1)" font-size="42.5" font-family="Liberation Sans, Arial, sans-serif" font-weight="bold">d</text>
</g>
<g id="chart-e">
<rect x="834.8" y="910.5" width="25.4" height="115.0" fill="#fff" stroke="#000" stroke-width="3.0" stroke-linejoin="round"/>
<rect x="877.9" y="909.4" width="28.2" height="117.3" fill="#000" stroke="#000" stroke-width="1.4" stroke-linejoin="round"/>
<path d="M996.1 725.7V702.4M991.0 702.4H1001.2" stroke="#000" stroke-width="2.8" stroke-linecap="round" fill="none"/>
<rect x="983.5" y="727.2" width="25.3" height="298.3" fill="#fff" stroke="#000" stroke-width="3.0" stroke-linejoin="round"/>
<path d="M1040.7 756.7V725.4M1035.6 725.4H1045.8" stroke="#000" stroke-width="2.8" stroke-linecap="round" fill="none"/>
<rect x="1026.5" y="757.1" width="28.3" height="269.6" fill="#000" stroke="#000" stroke-width="1.4" stroke-linejoin="round"/>
<path d="M1144.8 902.3V887.4M1139.8 887.4H1149.9" stroke="#000" stroke-width="2.8" stroke-linecap="round" fill="none"/>
<rect x="1132.2" y="903.8" width="25.3" height="121.7" fill="#fff" stroke="#000" stroke-width="3.0" stroke-linejoin="round"/>
<path d="M1189.3 902.7V894.1M1184.2 894.1H1194.4" stroke="#000" stroke-width="2.8" stroke-linecap="round" fill="none"/>
<rect x="1175.2" y="903.1" width="28.3" height="123.6" fill="#000" stroke="#000" stroke-width="1.4" stroke-linejoin="round"/>
<path d="M773.5 671.9V1028.1" stroke="#000" stroke-width="2.8" fill="none"/>
<path d="M768.1 1026.7L1265.0 1026.7" stroke="#000" stroke-width="2.8" stroke-linecap="round" fill="none"/>
<path d="M768.1 673.3H773.5" stroke="#000" stroke-width="2.8" stroke-linecap="round"/>
<text x="755.0" y="682.1" text-anchor="end" font-size="24" font-family="Liberation Sans, Arial, sans-serif" font-weight="bold" stroke="#000" stroke-width="0.55" stroke-linejoin="round">3.0</text>
<path d="M768.1 732.3H773.5" stroke="#000" stroke-width="2.8" stroke-linecap="round"/>
<text x="755.0" y="741.1" text-anchor="end" font-size="24" font-family="Liberation Sans, Arial, sans-serif" font-weight="bold" stroke="#000" stroke-width="0.55" stroke-linejoin="round">2.5</text>
<path d="M768.1 791.3H773.5" stroke="#000" stroke-width="2.8" stroke-linecap="round"/>
<text x="755.0" y="800.1" text-anchor="end" font-size="24" font-family="Liberation Sans, Arial, sans-serif" font-weight="bold" stroke="#000" stroke-width="0.55" stroke-linejoin="round">2.0</text>
<path d="M768.1 850.3H773.5" stroke="#000" stroke-width="2.8" stroke-linecap="round"/>
<text x="755.0" y="859.1" text-anchor="end" font-size="24" font-family="Liberation Sans, Arial, sans-serif" font-weight="bold" stroke="#000" stroke-width="0.55" stroke-linejoin="round">1.5</text>
<path d="M768.1 909.0H773.5" stroke="#000" stroke-width="2.8" stroke-linecap="round"/>
<text x="755.0" y="917.8" text-anchor="end" font-size="24" font-family="Liberation Sans, Arial, sans-serif" font-weight="bold" stroke="#000" stroke-width="0.55" stroke-linejoin="round">1.0</text>
<path d="M768.1 968.0H773.5" stroke="#000" stroke-width="2.8" stroke-linecap="round"/>
<text x="755.0" y="976.8" text-anchor="end" font-size="24" font-family="Liberation Sans, Arial, sans-serif" font-weight="bold" stroke="#000" stroke-width="0.55" stroke-linejoin="round">0.5</text>
<path d="M768.1 1026.7H773.5" stroke="#000" stroke-width="2.8" stroke-linecap="round"/>
<text x="755.0" y="1035.5" text-anchor="end" font-size="24" font-family="Liberation Sans, Arial, sans-serif" font-weight="bold" stroke="#000" stroke-width="0.55" stroke-linejoin="round">0.0</text>
<path d="M869.7 1026.7V1032.2" stroke="#000" stroke-width="2.8" stroke-linecap="round"/>
<path d="M1018.7 1026.7V1032.2" stroke="#000" stroke-width="2.8" stroke-linecap="round"/>
<path d="M1167.3 1026.7V1032.2" stroke="#000" stroke-width="2.8" stroke-linecap="round"/>
<text x="996.7" y="696.0" text-anchor="middle" font-size="44" font-family="Liberation Sans, Arial, sans-serif" stroke="#000" stroke-width="0.9" stroke-linejoin="round">*</text>
<text x="1041.0" y="718.0" text-anchor="middle" font-size="44" font-family="Liberation Sans, Arial, sans-serif" stroke="#000" stroke-width="0.9" stroke-linejoin="round">*</text>
<text x="1144.0" y="881.3" text-anchor="middle" font-size="26" font-family="Liberation Serif, Times New Roman, serif">#</text>
<text x="1189.3" y="886.9" text-anchor="middle" font-size="26" font-family="Liberation Serif, Times New Roman, serif">#</text>
<rect x="1148.3" y="653.3" width="110.8" height="52.3" rx="1" fill="#fff" stroke="#1a1a1a" stroke-width="1.35"/>
<rect x="1157.9" y="665.4" width="31" height="10.4" rx="1.2" fill="#fff" stroke="#000" stroke-width="2.7"/>
<rect x="1156.7" y="681.9" width="33.6" height="13" rx="1.8" fill="#000"/>
<text x="1196.7" y="675.3" font-size="13.7" font-family="Liberation Sans, Arial, sans-serif" fill="#111" stroke="#111" stroke-width="0.3">JJ012</text>
<text x="1196.7" y="692.7" font-size="13.7" font-family="Liberation Sans, Arial, sans-serif" fill="#111" stroke="#111" stroke-width="0.3">SW1353</text>
<text transform="translate(676.0 853.2) rotate(-90)" text-anchor="middle" font-size="25.0" font-family="Liberation Sans, Arial, sans-serif" font-weight="bold" stroke="#000" stroke-width="0.55" stroke-linejoin="round">MMP-9 mRNA expression</text>
<text transform="translate(703.5 847.0) rotate(-90)" text-anchor="middle" font-size="25.3" font-family="Liberation Sans, Arial, sans-serif" font-weight="bold" stroke="#000" stroke-width="0.55" stroke-linejoin="round">(fold of control)</text>
<text transform="translate(855.7 1057.5) rotate(30)" font-size="24.4" font-family="Liberation Sans, Arial, sans-serif" font-weight="bold" stroke="#000" stroke-width="0.55" stroke-linejoin="round">Control</text>
<text transform="translate(1004.7 1057.5) rotate(30)" font-size="24.4" font-family="Liberation Sans, Arial, sans-serif" font-weight="bold" stroke="#000" stroke-width="0.55" stroke-linejoin="round">CCN6</text>
<text transform="translate(1153.3 1056.5) rotate(30)" font-size="24.4" font-family="Liberation Sans, Arial, sans-serif" font-weight="bold" stroke="#000" stroke-width="0.55" stroke-linejoin="round">Rapamycin</text>
<path d="M1120.7 1125.3H1257.3" stroke="#000" stroke-width="2.8" stroke-linecap="round"/>
<text x="1184.5" y="1157.7" text-anchor="middle" font-size="24" font-family="Liberation Sans, Arial, sans-serif" font-weight="bold" stroke="#000" stroke-width="0.55" stroke-linejoin="round">CCN6</text>
<text transform="translate(660.0 643.3) scale(0.965 1)" font-size="42.5" font-family="Liberation Sans, Arial, sans-serif" font-weight="bold">e</text>
</g>
<g id="chart-f">
<rect x="1508.8" y="905.5" width="18.7" height="115.0" fill="#fff" stroke="#000" stroke-width="3.0" stroke-linejoin="round"/>
<rect x="1540.2" y="904.4" width="21.9" height="117.3" fill="#000" stroke="#000" stroke-width="1.4" stroke-linejoin="round"/>
<path d="M1629.7 780.7V774.1M1624.6 774.1H1634.8" stroke="#000" stroke-width="2.8" stroke-linecap="round" fill="none"/>
<rect x="1620.5" y="782.2" width="18.3" height="238.3" fill="#fff" stroke="#000" stroke-width="3.0" stroke-linejoin="round"/>
<path d="M1662.7 774.7V760.1M1657.6 760.1H1667.8" stroke="#000" stroke-width="2.8" stroke-linecap="round" fill="none"/>
<rect x="1651.9" y="775.1" width="21.6" height="246.6" fill="#000" stroke="#000" stroke-width="1.4" stroke-linejoin="round"/>
<path d="M1741.3 794.0V782.1M1736.2 782.1H1746.4" stroke="#000" stroke-width="2.8" stroke-linecap="round" fill="none"/>
<rect x="1732.2" y="795.5" width="18.3" height="225.0" fill="#fff" stroke="#000" stroke-width="3.0" stroke-linejoin="round"/>
<path d="M1774.3 758.7V739.1M1769.2 739.1H1779.4" stroke="#000" stroke-width="2.8" stroke-linecap="round" fill="none"/>
<rect x="1763.5" y="759.1" width="21.6" height="262.6" fill="#000" stroke="#000" stroke-width="1.4" stroke-linejoin="round"/>
<path d="M1852.8 882.3V862.7M1847.7 862.7H1857.9" stroke="#000" stroke-width="2.8" stroke-linecap="round" fill="none"/>
<rect x="1843.8" y="883.8" width="18.0" height="136.7" fill="#fff" stroke="#000" stroke-width="3.0" stroke-linejoin="round"/>
<path d="M1885.7 895.3V883.4M1880.6 883.4H1890.8" stroke="#000" stroke-width="2.8" stroke-linecap="round" fill="none"/>
<rect x="1874.9" y="895.7" width="21.6" height="126.0" fill="#000" stroke="#000" stroke-width="1.4" stroke-linejoin="round"/>
<path d="M1455.5 667.3V1023.1" stroke="#000" stroke-width="2.8" fill="none"/>
<path d="M1450.1 1021.7L1947.7 1021.7" stroke="#000" stroke-width="2.8" stroke-linecap="round" fill="none"/>
<path d="M1450.1 668.7H1455.5" stroke="#000" stroke-width="2.8" stroke-linecap="round"/>
<text x="1439.0" y="677.5" text-anchor="end" font-size="24" font-family="Liberation Sans, Arial, sans-serif" font-weight="bold" stroke="#000" stroke-width="0.55" stroke-linejoin="round">3.0</text>
<path d="M1450.1 727.3H1455.5" stroke="#000" stroke-width="2.8" stroke-linecap="round"/>
<text x="1439.0" y="736.1" text-anchor="end" font-size="24" font-family="Liberation Sans, Arial, sans-serif" font-weight="bold" stroke="#000" stroke-width="0.55" stroke-linejoin="round">2.5</text>
<path d="M1450.1 786.0H1455.5" stroke="#000" stroke-width="2.8" stroke-linecap="round"/>
<text x="1439.0" y="794.8" text-anchor="end" font-size="24" font-family="Liberation Sans, Arial, sans-serif" font-weight="bold" stroke="#000" stroke-width="0.55" stroke-linejoin="round">2.0</text>
<path d="M1450.1 845.0H1455.5" stroke="#000" stroke-width="2.8" stroke-linecap="round"/>
<text x="1439.0" y="853.8" text-anchor="end" font-size="24" font-family="Liberation Sans, Arial, sans-serif" font-weight="bold" stroke="#000" stroke-width="0.55" stroke-linejoin="round">1.5</text>
<path d="M1450.1 904.0H1455.5" stroke="#000" stroke-width="2.8" stroke-linecap="round"/>
<text x="1439.0" y="912.8" text-anchor="end" font-size="24" font-family="Liberation Sans, Arial, sans-serif" font-weight="bold" stroke="#000" stroke-width="0.55" stroke-linejoin="round">1.0</text>
<path d="M1450.1 962.7H1455.5" stroke="#000" stroke-width="2.8" stroke-linecap="round"/>
<text x="1439.0" y="971.5" text-anchor="end" font-size="24" font-family="Liberation Sans, Arial, sans-serif" font-weight="bold" stroke="#000" stroke-width="0.55" stroke-linejoin="round">0.5</text>
<path d="M1450.1 1021.7H1455.5" stroke="#000" stroke-width="2.8" stroke-linecap="round"/>
<text x="1439.0" y="1030.5" text-anchor="end" font-size="24" font-family="Liberation Sans, Arial, sans-serif" font-weight="bold" stroke="#000" stroke-width="0.55" stroke-linejoin="round">0.0</text>
<path d="M1534.3 1021.7V1027.2" stroke="#000" stroke-width="2.8" stroke-linecap="round"/>
<path d="M1646.0 1021.7V1027.2" stroke="#000" stroke-width="2.8" stroke-linecap="round"/>
<path d="M1757.7 1021.7V1027.2" stroke="#000" stroke-width="2.8" stroke-linecap="round"/>
<path d="M1869.0 1021.7V1027.2" stroke="#000" stroke-width="2.8" stroke-linecap="round"/>
<text x="1630.0" y="765.3" text-anchor="middle" font-size="44" font-family="Liberation Sans, Arial, sans-serif" stroke="#000" stroke-width="0.9" stroke-linejoin="round">*</text>
<text x="1663.3" y="750.3" text-anchor="middle" font-size="44" font-family="Liberation Sans, Arial, sans-serif" stroke="#000" stroke-width="0.9" stroke-linejoin="round">*</text>
<text x="1741.0" y="775.3" text-anchor="middle" font-size="44" font-family="Liberation Sans, Arial, sans-serif" stroke="#000" stroke-width="0.9" stroke-linejoin="round">*</text>
<text x="1775.7" y="731.3" text-anchor="middle" font-size="44" font-family="Liberation Sans, Arial, sans-serif" stroke="#000" stroke-width="0.9" stroke-linejoin="round">*</text>
<text x="1852.3" y="855.9" text-anchor="middle" font-size="26" font-family="Liberation Serif, Times New Roman, serif">#</text>
<text x="1885.0" y="876.3" text-anchor="middle" font-size="26" font-family="Liberation Serif, Times New Roman, serif">#</text>
<rect x="1848.3" y="658.9" width="110.8" height="52.3" rx="1" fill="#fff" stroke="#1a1a1a" stroke-width="1.35"/>
<rect x="1857.9" y="671.0" width="31" height="10.4" rx="1.2" fill="#fff" stroke="#000" stroke-width="2.7"/>
<rect x="1856.7" y="687.5" width="33.6" height="13" rx="1.8" fill="#000"/>
<text x="1896.7" y="680.9" font-size="13.7" font-family="Liberation Sans, Arial, sans-serif" fill="#111" stroke="#111" stroke-width="0.3">JJ012</text>
<text x="1896.7" y="698.3" font-size="13.7" font-family="Liberation Sans, Arial, sans-serif" fill="#111" stroke="#111" stroke-width="0.3">SW1353</text>
<text transform="translate(1358.5 848.0) rotate(-90)" text-anchor="middle" font-size="25.1" font-family="Liberation Sans, Arial, sans-serif" font-weight="bold" stroke="#000" stroke-width="0.55" stroke-linejoin="round">MMP-9 mRNA expression</text>
<text transform="translate(1386.0 844.0) rotate(-90)" text-anchor="middle" font-size="25.0" font-family="Liberation Sans, Arial, sans-serif" font-weight="bold" stroke="#000" stroke-width="0.55" stroke-linejoin="round">(fold of control)</text>
<text transform="translate(1520.3 1053.5) rotate(30)" font-size="24.7" font-family="Liberation Sans, Arial, sans-serif" font-weight="bold" stroke="#000" stroke-width="0.55" stroke-linejoin="round">Control</text>
<text transform="translate(1632.0 1053.5) rotate(30)" font-size="24.7" font-family="Liberation Sans, Arial, sans-serif" font-weight="bold" stroke="#000" stroke-width="0.55" stroke-linejoin="round">CCN6</text>
<text transform="translate(1743.7 1054.0) rotate(30)" font-size="24.7" font-family="Liberation Sans, Arial, sans-serif" font-weight="bold" stroke="#000" stroke-width="0.55" stroke-linejoin="round">Control siRNA</text>
<text transform="translate(1855.0 1053.5) rotate(30)" font-size="24.7" font-family="Liberation Sans, Arial, sans-serif" font-weight="bold" stroke="#000" stroke-width="0.55" stroke-linejoin="round">mTOR siRNA</text>
<path d="M1738.3 1147.7H1935.7" stroke="#000" stroke-width="2.8" stroke-linecap="round"/>
<text x="1842.3" y="1176.7" text-anchor="middle" font-size="24" font-family="Liberation Sans, Arial, sans-serif" font-weight="bold" stroke="#000" stroke-width="0.55" stroke-linejoin="round">CCN6</text>
<text transform="translate(1344.0 641.7) scale(0.965 1)" font-size="42.5" font-family="Liberation Sans, Arial, sans-serif" font-weight="bold">f</text>
</g>
<g id="panel-g">
<text transform="translate(4.0 1277.0) scale(0.965 1)" font-size="42.5" font-family="Liberation Sans, Arial, sans-serif" font-weight="bold">g</text>
<text transform="translate(231.5 1375.8) rotate(-30)" font-size="26.2" font-family="Liberation Sans, Arial, sans-serif" font-weight="bold" stroke="#000" stroke-width="0.55" stroke-linejoin="round">Control siRNA</text>
<text transform="translate(346.8 1372.0) rotate(-30)" font-size="26.2" font-family="Liberation Sans, Arial, sans-serif" font-weight="bold" stroke="#000" stroke-width="0.55" stroke-linejoin="round">mTOR siRNA</text>
<clipPath id="cp1"><rect x="184.5" y="1399.0" width="217.3" height="57.4"/></clipPath>
<g clip-path="url(#cp1)">
<rect x="183.5" y="1398.0" width="219.3" height="59.4" fill="#e2e2e2"/>
<rect x="183.0" y="1398.0" width="220.0" height="22.0" fill="#e9e9e9" filter="url(#b3)" opacity="0.8"/>
<path d="M198.0 1426.8L202.1 1424.6L206.1 1424.3L210.2 1424.2L214.2 1424.2L218.2 1424.3L222.3 1424.3L226.3 1424.4L230.4 1424.4L234.4 1424.4L238.5 1424.2L242.6 1424.1L246.6 1423.8L250.7 1423.5L254.7 1423.1L258.8 1422.8L262.8 1422.4L266.9 1422.1L270.9 1421.9L274.9 1421.9L279.0 1423.8L279.0 1423.8L274.9 1427.2L270.9 1428.8L266.9 1429.9L262.8 1430.8L258.8 1431.5L254.7 1432.0L250.7 1432.5L246.6 1432.8L242.6 1433.1L238.5 1433.2L234.4 1433.4L230.4 1433.4L226.3 1433.4L222.3 1433.2L218.2 1433.0L214.2 1432.6L210.2 1432.0L206.1 1431.2L202.1 1429.9L198.0 1426.8Z" fill="#2e2e2e" filter="url(#b2)" opacity="0.95"/>
<path d="M298.0 1423.2L302.4 1421.5L306.8 1421.3L311.1 1421.5L315.5 1421.7L319.9 1422.0L324.2 1422.3L328.6 1422.6L333.0 1422.8L337.4 1422.9L341.8 1423.0L346.1 1423.0L350.5 1423.0L354.9 1422.9L359.2 1422.7L363.6 1422.5L368.0 1422.3L372.4 1422.2L376.8 1422.1L381.1 1422.4L385.5 1424.2L385.5 1424.2L381.1 1427.4L376.8 1428.7L372.4 1429.6L368.0 1430.3L363.6 1430.7L359.2 1431.1L354.9 1431.3L350.5 1431.5L346.1 1431.5L341.8 1431.5L337.4 1431.4L333.0 1431.3L328.6 1431.0L324.2 1430.7L319.9 1430.2L315.5 1429.7L311.1 1428.9L306.8 1427.9L302.4 1426.5L298.0 1423.2Z" fill="#5c5c5c" filter="url(#b2)" opacity="0.9"/>
</g>
<rect x="184.9" y="1399.4" width="216.5" height="56.6" fill="none" stroke="#000" stroke-width="3.0"/>
<clipPath id="cp2"><rect x="184.5" y="1468.7" width="217.3" height="57.3"/></clipPath>
<g clip-path="url(#cp2)">
<rect x="183.5" y="1467.7" width="219.3" height="59.3" fill="#c2c2c2"/>
<rect x="183.0" y="1468.0" width="220.0" height="12.0" fill="#cccccc" filter="url(#b3)" opacity="0.8"/>
<path d="M207.0 1498.0L210.7 1493.7L214.4 1492.6L218.2 1492.1L221.9 1491.8L225.6 1491.8L229.3 1491.8L233.1 1491.8L236.8 1491.8L240.5 1491.8L244.2 1491.8L248.0 1491.7L251.7 1491.5L255.4 1491.3L259.1 1491.2L262.9 1491.0L266.6 1490.9L270.3 1491.0L274.1 1491.4L277.8 1492.4L281.5 1496.5L281.5 1496.5L277.8 1501.7L274.1 1503.7L270.3 1505.0L266.6 1505.9L262.9 1506.5L259.1 1506.9L255.4 1507.3L251.7 1507.5L248.0 1507.6L244.2 1507.8L240.5 1507.8L236.8 1507.8L233.1 1507.7L229.3 1507.5L225.6 1507.2L221.9 1506.8L218.2 1506.0L214.4 1504.9L210.7 1503.1L207.0 1498.0Z" fill="#000" filter="url(#b1)" opacity="1.0"/>
<path d="M303.5 1496.0L307.7 1491.1L311.8 1489.7L316.0 1488.9L320.2 1488.3L324.3 1488.0L328.5 1487.8L332.7 1487.6L336.8 1487.4L341.0 1487.2L345.1 1487.0L349.3 1486.7L353.5 1486.4L357.6 1486.1L361.8 1485.8L366.0 1485.5L370.1 1485.3L374.3 1485.4L378.5 1485.7L382.6 1486.6L386.8 1491.0L386.8 1491.0L382.6 1496.6L378.5 1498.8L374.3 1500.2L370.1 1501.2L366.0 1502.0L361.8 1502.6L357.6 1503.0L353.5 1503.4L349.3 1503.7L345.1 1504.0L341.0 1504.2L336.8 1504.4L332.7 1504.5L328.5 1504.6L324.3 1504.5L320.2 1504.2L316.0 1503.7L311.8 1502.8L307.7 1501.1L303.5 1496.0Z" fill="#000" filter="url(#b1)" opacity="1.0"/>
</g>
<rect x="184.9" y="1469.1" width="216.5" height="56.5" fill="none" stroke="#000" stroke-width="3.0"/>
<text x="138.3" y="1431" text-anchor="end" font-size="18.8" font-family="DejaVu Sans, Verdana, sans-serif" font-weight="bold" stroke="#000" stroke-width="0.9" stroke-linejoin="round">289kDa</text>
<text x="138.3" y="1504" text-anchor="end" font-size="18.8" font-family="DejaVu Sans, Verdana, sans-serif" font-weight="bold" stroke="#000" stroke-width="0.9" stroke-linejoin="round">43kDa</text>
<rect x="147.7" y="1421.0" width="27.3" height="8.0" fill="#000"/>
<rect x="147.7" y="1495.0" width="27.3" height="7.7" fill="#000"/>
<text x="421.7" y="1432.7" font-size="22.4" font-family="DejaVu Sans, Verdana, sans-serif" font-weight="bold" stroke="#000" stroke-width="0.9" stroke-linejoin="round">mTOR</text>
<text x="422.7" y="1504" font-size="22.4" font-family="DejaVu Sans, Verdana, sans-serif" font-weight="bold" stroke="#000" stroke-width="0.9" stroke-linejoin="round"><tspan font-family="Liberation Serif, Times New Roman, serif" font-weight="normal" font-size="24">β</tspan>-actin</text>
<text x="154" y="1554" font-size="19.8" font-family="DejaVu Sans, Verdana, sans-serif" font-weight="bold" stroke="#000" stroke-width="0.9" stroke-linejoin="round">Fold</text>
<text x="237.3" y="1554" text-anchor="middle" font-size="19.8" font-family="DejaVu Sans, Verdana, sans-serif" font-weight="bold" stroke="#000" stroke-width="0.9" stroke-linejoin="round">1</text>
<text x="336.7" y="1554" text-anchor="middle" font-size="19.8" font-family="DejaVu Sans, Verdana, sans-serif" font-weight="bold" stroke="#000" stroke-width="0.9" stroke-linejoin="round">0.5</text>
</g>
<g id="panel-h">
<text transform="translate(658.0 1275.7) scale(0.965 1)" font-size="42.5" font-family="Liberation Sans, Arial, sans-serif" font-weight="bold">h</text>
<text x="980.3" y="1275.9" text-anchor="middle" font-size="25.2" font-family="Liberation Sans, Arial, sans-serif" font-weight="bold" stroke="#000" stroke-width="0.55" stroke-linejoin="round">CCN6</text>
<path d="M848.6 1294.3H1136.4" stroke="#000" stroke-width="3.2" stroke-linecap="round"/>
<text x="814" y="1332.7" text-anchor="middle" font-size="25.6" font-family="Liberation Sans, Arial, sans-serif" font-weight="bold" stroke="#000" stroke-width="0.55" stroke-linejoin="round">0</text>
<text x="869" y="1332.7" text-anchor="middle" font-size="25.6" font-family="Liberation Sans, Arial, sans-serif" font-weight="bold" stroke="#000" stroke-width="0.55" stroke-linejoin="round">10</text>
<text x="927.7" y="1332.7" text-anchor="middle" font-size="25.6" font-family="Liberation Sans, Arial, sans-serif" font-weight="bold" stroke="#000" stroke-width="0.55" stroke-linejoin="round">15</text>
<text x="984" y="1332.7" text-anchor="middle" font-size="25.6" font-family="Liberation Sans, Arial, sans-serif" font-weight="bold" stroke="#000" stroke-width="0.55" stroke-linejoin="round">30</text>
<text x="1042.3" y="1330.4" text-anchor="middle" font-size="25.6" font-family="Liberation Sans, Arial, sans-serif" font-weight="bold" stroke="#000" stroke-width="0.55" stroke-linejoin="round">60</text>
<text x="1101" y="1330.4" text-anchor="middle" font-size="25.6" font-family="Liberation Sans, Arial, sans-serif" font-weight="bold" stroke="#000" stroke-width="0.55" stroke-linejoin="round">120</text>
<text x="1129.5" y="1343.6" font-size="26" font-family="Liberation Sans, Arial, sans-serif" font-weight="bold" stroke="#000" stroke-width="0.55" stroke-linejoin="round">(min)</text>
<clipPath id="cp3"><rect x="784.7" y="1359.0" width="351.9" height="71.0"/></clipPath>
<g clip-path="url(#cp3)">
<rect x="783.7" y="1358.0" width="353.9" height="73.0" fill="#ededed"/>
<rect x="797.0" y="1398.0" width="34.0" height="33.0" fill="#d8d8d8" filter="url(#b3)" opacity="0.7"/>
<rect x="858.0" y="1398.0" width="33.0" height="33.0" fill="#d8d8d8" filter="url(#b3)" opacity="0.7"/>
<rect x="913.0" y="1398.0" width="36.0" height="33.0" fill="#d8d8d8" filter="url(#b3)" opacity="0.7"/>
<rect x="975.0" y="1398.0" width="33.0" height="33.0" fill="#d8d8d8" filter="url(#b3)" opacity="0.7"/>
<rect x="1035.0" y="1398.0" width="31.0" height="33.0" fill="#d8d8d8" filter="url(#b3)" opacity="0.7"/>
<rect x="1093.0" y="1398.0" width="30.0" height="33.0" fill="#d8d8d8" filter="url(#b3)" opacity="0.7"/>
<rect x="783.0" y="1358.0" width="355.0" height="18.0" fill="#e6e6e6" filter="url(#b3)" opacity="0.8"/>
<path d="M796.0 1391.0L796.9 1388.0L797.8 1387.0L798.7 1386.3L799.6 1385.9L800.5 1385.7L801.4 1385.5L802.3 1385.3L803.2 1385.2L804.1 1385.1L805.0 1385.0L805.9 1384.9L806.8 1384.8L807.7 1384.7L808.6 1384.7L809.5 1384.7L810.4 1384.7L811.3 1384.9L812.2 1385.4L813.1 1386.2L814.0 1389.0L814.0 1389.0L813.1 1392.0L812.2 1393.0L811.3 1393.7L810.4 1394.1L809.5 1394.3L808.6 1394.5L807.7 1394.7L806.8 1394.8L805.9 1394.9L805.0 1395.0L804.1 1395.1L803.2 1395.2L802.3 1395.3L801.4 1395.3L800.5 1395.3L799.6 1395.3L798.7 1395.1L797.8 1394.6L796.9 1393.8L796.0 1391.0Z" fill="#b8b8b8" filter="url(#b2)" opacity="0.85"/>
<path d="M820.0 1389.0L820.6 1386.0L821.3 1385.2L822.0 1384.8L822.6 1384.7L823.2 1384.7L823.9 1384.8L824.5 1384.9L825.2 1385.1L825.9 1385.3L826.5 1385.5L827.1 1385.7L827.8 1385.9L828.5 1386.1L829.1 1386.4L829.8 1386.7L830.4 1387.1L831.0 1387.6L831.7 1388.4L832.4 1389.6L833.0 1393.0L833.0 1393.0L832.4 1396.0L831.7 1396.8L831.0 1397.2L830.4 1397.3L829.8 1397.3L829.1 1397.2L828.5 1397.1L827.8 1396.9L827.1 1396.7L826.5 1396.5L825.9 1396.3L825.2 1396.1L824.5 1395.9L823.9 1395.6L823.2 1395.3L822.6 1394.9L822.0 1394.4L821.3 1393.6L820.6 1392.4L820.0 1389.0Z" fill="#c0c0c0" filter="url(#b2)" opacity="0.85"/>
<path d="M857.0 1391.0L858.8 1388.4L860.6 1387.5L862.4 1387.1L864.2 1386.8L866.0 1386.6L867.8 1386.6L869.6 1386.5L871.4 1386.5L873.2 1386.5L875.0 1386.5L876.8 1386.5L878.6 1386.5L880.4 1386.5L882.2 1386.6L884.0 1386.6L885.8 1386.8L887.6 1387.1L889.4 1387.5L891.2 1388.4L893.0 1391.0L893.0 1391.0L891.2 1393.6L889.4 1394.5L887.6 1394.9L885.8 1395.2L884.0 1395.4L882.2 1395.4L880.4 1395.5L878.6 1395.5L876.8 1395.5L875.0 1395.5L873.2 1395.5L871.4 1395.5L869.6 1395.5L867.8 1395.4L866.0 1395.4L864.2 1395.2L862.4 1394.9L860.6 1394.5L858.8 1393.6L857.0 1391.0Z" fill="#9c9c9c" filter="url(#b2)" opacity="0.9"/>
<path d="M911.0 1388.2L913.0 1386.0L915.0 1385.3L917.0 1385.0L919.0 1384.8L921.0 1384.8L923.0 1384.8L925.0 1384.8L927.0 1384.9L929.0 1384.9L931.0 1385.0L933.0 1385.1L935.0 1385.2L937.0 1385.2L939.0 1385.4L941.0 1385.5L943.0 1385.7L945.0 1386.0L947.0 1386.5L949.0 1387.3L951.0 1389.8L951.0 1389.8L949.0 1392.0L947.0 1392.7L945.0 1393.0L943.0 1393.2L941.0 1393.2L939.0 1393.2L937.0 1393.2L935.0 1393.1L933.0 1393.1L931.0 1393.0L929.0 1392.9L927.0 1392.8L925.0 1392.8L923.0 1392.6L921.0 1392.5L919.0 1392.3L917.0 1392.0L915.0 1391.5L913.0 1390.7L911.0 1388.2Z" fill="#6a6a6a" filter="url(#b2)" opacity="0.95"/>
<path d="M913.0 1388.8L914.8 1387.8L916.6 1387.6L918.4 1387.4L920.2 1387.4L922.0 1387.4L923.8 1387.5L925.6 1387.5L927.4 1387.6L929.2 1387.7L931.0 1387.8L932.8 1387.8L934.6 1387.9L936.4 1388.0L938.2 1388.1L940.0 1388.2L941.8 1388.3L943.6 1388.5L945.4 1388.8L947.2 1389.1L949.0 1390.2L949.0 1390.2L947.2 1391.2L945.4 1391.4L943.6 1391.6L941.8 1391.6L940.0 1391.6L938.2 1391.5L936.4 1391.5L934.6 1391.4L932.8 1391.3L931.0 1391.2L929.2 1391.2L927.4 1391.1L925.6 1391.0L923.8 1390.9L922.0 1390.8L920.2 1390.7L918.4 1390.5L916.6 1390.2L914.8 1389.9L913.0 1388.8Z" fill="#3a3a3a" filter="url(#b1)" opacity="0.8"/>
<path d="M973.0 1391.0L974.9 1388.7L976.7 1388.0L978.5 1387.7L980.4 1387.5L982.2 1387.4L984.1 1387.4L986.0 1387.4L987.8 1387.4L989.6 1387.5L991.5 1387.5L993.4 1387.6L995.2 1387.6L997.0 1387.7L998.9 1387.8L1000.8 1387.9L1002.6 1388.1L1004.5 1388.4L1006.3 1388.8L1008.1 1389.6L1010.0 1392.0L1010.0 1392.0L1008.1 1394.3L1006.3 1395.0L1004.5 1395.3L1002.6 1395.5L1000.8 1395.6L998.9 1395.6L997.0 1395.6L995.2 1395.6L993.4 1395.5L991.5 1395.5L989.6 1395.4L987.8 1395.4L986.0 1395.3L984.1 1395.2L982.2 1395.1L980.4 1394.9L978.5 1394.6L976.7 1394.2L974.9 1393.4L973.0 1391.0Z" fill="#4a4a4a" filter="url(#b2)" opacity="0.95"/>
<path d="M975.0 1390.5L976.7 1389.2L978.4 1388.9L980.1 1388.7L981.8 1388.6L983.5 1388.6L985.2 1388.6L986.9 1388.6L988.6 1388.7L990.3 1388.7L992.0 1388.8L993.7 1388.8L995.4 1388.9L997.1 1388.9L998.8 1389.0L1000.5 1389.1L1002.2 1389.2L1003.9 1389.4L1005.6 1389.7L1007.3 1390.1L1009.0 1391.5L1009.0 1391.5L1007.3 1392.8L1005.6 1393.1L1003.9 1393.3L1002.2 1393.4L1000.5 1393.4L998.8 1393.4L997.1 1393.4L995.4 1393.3L993.7 1393.3L992.0 1393.2L990.3 1393.2L988.6 1393.1L986.9 1393.1L985.2 1393.0L983.5 1392.9L981.8 1392.8L980.1 1392.6L978.4 1392.3L976.7 1391.9L975.0 1390.5Z" fill="#000" filter="url(#b1)" opacity="0.95"/>
<path d="M1033.0 1391.5L1034.8 1389.3L1036.5 1388.6L1038.2 1388.3L1040.0 1388.2L1041.8 1388.1L1043.5 1388.2L1045.2 1388.2L1047.0 1388.3L1048.8 1388.4L1050.5 1388.5L1052.2 1388.6L1054.0 1388.7L1055.8 1388.8L1057.5 1389.0L1059.2 1389.1L1061.0 1389.4L1062.8 1389.7L1064.5 1390.2L1066.2 1391.1L1068.0 1393.5L1068.0 1393.5L1066.2 1395.7L1064.5 1396.4L1062.8 1396.7L1061.0 1396.8L1059.2 1396.9L1057.5 1396.8L1055.8 1396.8L1054.0 1396.7L1052.2 1396.6L1050.5 1396.5L1048.8 1396.4L1047.0 1396.3L1045.2 1396.2L1043.5 1396.0L1041.8 1395.9L1040.0 1395.6L1038.2 1395.3L1036.5 1394.8L1034.8 1393.9L1033.0 1391.5Z" fill="#4a4a4a" filter="url(#b2)" opacity="0.95"/>
<path d="M1035.0 1391.0L1036.6 1389.8L1038.2 1389.5L1039.8 1389.3L1041.4 1389.3L1043.0 1389.3L1044.6 1389.4L1046.2 1389.5L1047.8 1389.6L1049.4 1389.7L1051.0 1389.8L1052.6 1389.9L1054.2 1390.0L1055.8 1390.1L1057.4 1390.2L1059.0 1390.3L1060.6 1390.5L1062.2 1390.7L1063.8 1391.1L1065.4 1391.6L1067.0 1393.0L1067.0 1393.0L1065.4 1394.2L1063.8 1394.5L1062.2 1394.7L1060.6 1394.7L1059.0 1394.7L1057.4 1394.6L1055.8 1394.5L1054.2 1394.4L1052.6 1394.3L1051.0 1394.2L1049.4 1394.1L1047.8 1394.0L1046.2 1393.9L1044.6 1393.8L1043.0 1393.7L1041.4 1393.5L1039.8 1393.3L1038.2 1392.9L1036.6 1392.4L1035.0 1391.0Z" fill="#000" filter="url(#b1)" opacity="0.95"/>
<path d="M1091.0 1394.0L1092.7 1391.7L1094.4 1391.0L1096.1 1390.7L1097.8 1390.5L1099.5 1390.4L1101.2 1390.4L1102.9 1390.4L1104.6 1390.4L1106.3 1390.5L1108.0 1390.5L1109.7 1390.6L1111.4 1390.6L1113.1 1390.7L1114.8 1390.8L1116.5 1390.9L1118.2 1391.1L1119.9 1391.4L1121.6 1391.8L1123.3 1392.6L1125.0 1395.0L1125.0 1395.0L1123.3 1397.3L1121.6 1398.0L1119.9 1398.3L1118.2 1398.5L1116.5 1398.6L1114.8 1398.6L1113.1 1398.6L1111.4 1398.6L1109.7 1398.5L1108.0 1398.5L1106.3 1398.4L1104.6 1398.4L1102.9 1398.3L1101.2 1398.2L1099.5 1398.1L1097.8 1397.9L1096.1 1397.6L1094.4 1397.2L1092.7 1396.4L1091.0 1394.0Z" fill="#505050" filter="url(#b2)" opacity="0.95"/>
<path d="M1093.0 1393.5L1094.5 1392.3L1096.1 1392.0L1097.7 1391.8L1099.2 1391.7L1100.8 1391.7L1102.3 1391.7L1103.8 1391.8L1105.4 1391.8L1107.0 1391.9L1108.5 1391.9L1110.0 1392.0L1111.6 1392.0L1113.2 1392.1L1114.7 1392.1L1116.2 1392.2L1117.8 1392.3L1119.3 1392.5L1120.9 1392.8L1122.5 1393.2L1124.0 1394.5L1124.0 1394.5L1122.5 1395.7L1120.9 1396.0L1119.3 1396.2L1117.8 1396.3L1116.2 1396.3L1114.7 1396.3L1113.2 1396.2L1111.6 1396.2L1110.0 1396.1L1108.5 1396.1L1107.0 1396.0L1105.4 1396.0L1103.8 1395.9L1102.3 1395.9L1100.8 1395.8L1099.2 1395.7L1097.7 1395.5L1096.1 1395.2L1094.5 1394.8L1093.0 1393.5Z" fill="#050505" filter="url(#b1)" opacity="0.9"/>
</g>
<rect x="785.1" y="1359.4" width="351.1" height="70.2" fill="none" stroke="#000" stroke-width="3.0"/>
<clipPath id="cp4"><rect x="784.7" y="1445.3" width="351.9" height="72.3"/></clipPath>
<g clip-path="url(#cp4)">
<rect x="783.7" y="1444.3" width="353.9" height="74.3" fill="#dedede"/>
<rect x="795.0" y="1440.0" width="42.0" height="44.0" fill="#c0c0c0" filter="url(#b3)" opacity="0.8"/>
<rect x="796.0" y="1484.0" width="40.0" height="41.0" fill="#989898" filter="url(#b3)" opacity="0.85"/>
<rect x="851.0" y="1440.0" width="41.0" height="41.0" fill="#c0c0c0" filter="url(#b3)" opacity="0.8"/>
<rect x="852.0" y="1481.0" width="39.0" height="44.0" fill="#989898" filter="url(#b3)" opacity="0.85"/>
<rect x="908.0" y="1440.0" width="40.0" height="38.0" fill="#c0c0c0" filter="url(#b3)" opacity="0.8"/>
<rect x="909.0" y="1478.0" width="38.0" height="47.0" fill="#989898" filter="url(#b3)" opacity="0.85"/>
<rect x="966.0" y="1440.0" width="43.0" height="38.0" fill="#c0c0c0" filter="url(#b3)" opacity="0.8"/>
<rect x="967.0" y="1478.0" width="41.0" height="47.0" fill="#989898" filter="url(#b3)" opacity="0.85"/>
<rect x="1021.0" y="1440.0" width="42.0" height="37.0" fill="#c0c0c0" filter="url(#b3)" opacity="0.8"/>
<rect x="1022.0" y="1477.0" width="40.0" height="48.0" fill="#989898" filter="url(#b3)" opacity="0.85"/>
<rect x="1082.0" y="1440.0" width="41.0" height="36.0" fill="#c0c0c0" filter="url(#b3)" opacity="0.8"/>
<rect x="1083.0" y="1476.0" width="39.0" height="49.0" fill="#989898" filter="url(#b3)" opacity="0.85"/>
<path d="M797.6 1486.0L799.5 1480.6L801.3 1479.3L803.2 1478.6L805.0 1478.3L806.9 1478.0L808.8 1477.9L810.6 1477.7L812.5 1477.6L814.3 1477.4L816.2 1477.2L818.1 1477.1L819.9 1477.0L821.8 1476.8L823.6 1476.7L825.5 1476.5L827.4 1476.5L829.2 1476.5L831.1 1476.9L832.9 1477.9L834.8 1483.0L834.8 1483.0L832.9 1488.4L831.1 1489.7L829.2 1490.4L827.4 1490.7L825.5 1491.0L823.6 1491.1L821.8 1491.3L819.9 1491.4L818.1 1491.6L816.2 1491.8L814.3 1491.9L812.5 1492.0L810.6 1492.2L808.8 1492.3L806.9 1492.5L805.0 1492.5L803.2 1492.5L801.3 1492.1L799.5 1491.1L797.6 1486.0Z" fill="#000" filter="url(#b1)" opacity="1.0"/>
<path d="M851.0 1483.0L853.0 1477.6L854.9 1476.2L856.9 1475.5L858.8 1475.1L860.8 1474.8L862.7 1474.6L864.6 1474.4L866.6 1474.2L868.5 1474.0L870.5 1473.8L872.5 1473.6L874.4 1473.4L876.4 1473.2L878.3 1473.0L880.2 1472.8L882.2 1472.7L884.1 1472.7L886.1 1473.0L888.0 1474.0L890.0 1479.0L890.0 1479.0L888.0 1484.4L886.1 1485.8L884.1 1486.5L882.2 1486.9L880.2 1487.2L878.3 1487.4L876.4 1487.6L874.4 1487.8L872.5 1488.0L870.5 1488.2L868.5 1488.4L866.6 1488.6L864.6 1488.8L862.7 1489.0L860.8 1489.2L858.8 1489.3L856.9 1489.3L854.9 1489.0L853.0 1488.0L851.0 1483.0Z" fill="#000" filter="url(#b1)" opacity="1.0"/>
<path d="M909.0 1478.0L910.9 1474.4L912.7 1473.4L914.6 1472.9L916.4 1472.7L918.3 1472.5L920.2 1472.5L922.0 1472.4L923.9 1472.4L925.7 1472.3L927.6 1472.2L929.5 1472.2L931.3 1472.2L933.2 1472.1L935.0 1472.1L936.9 1472.0L938.8 1472.1L940.6 1472.2L942.5 1472.6L944.3 1473.5L946.2 1477.0L946.2 1477.0L944.3 1480.6L942.5 1481.6L940.6 1482.1L938.8 1482.3L936.9 1482.5L935.0 1482.5L933.2 1482.6L931.3 1482.6L929.5 1482.7L927.6 1482.8L925.7 1482.8L923.9 1482.8L922.0 1482.9L920.2 1482.9L918.3 1483.0L916.4 1482.9L914.6 1482.8L912.7 1482.4L910.9 1481.5L909.0 1478.0Z" fill="#000" filter="url(#b1)" opacity="1.0"/>
<path d="M967.0 1478.0L969.0 1472.4L971.0 1471.1L973.0 1470.6L975.0 1470.4L977.0 1470.3L979.0 1470.3L981.0 1470.3L983.0 1470.3L985.0 1470.3L987.0 1470.2L989.0 1470.3L991.0 1470.3L993.0 1470.3L995.0 1470.3L997.0 1470.3L999.0 1470.4L1001.0 1470.6L1003.0 1471.1L1005.0 1472.4L1007.0 1478.0L1007.0 1478.0L1005.0 1483.6L1003.0 1484.9L1001.0 1485.4L999.0 1485.6L997.0 1485.7L995.0 1485.7L993.0 1485.7L991.0 1485.7L989.0 1485.7L987.0 1485.8L985.0 1485.7L983.0 1485.7L981.0 1485.7L979.0 1485.7L977.0 1485.7L975.0 1485.6L973.0 1485.4L971.0 1484.9L969.0 1483.6L967.0 1478.0Z" fill="#000" filter="url(#b1)" opacity="1.0"/>
<path d="M1021.4 1477.5L1023.4 1470.7L1025.4 1469.2L1027.4 1468.6L1029.4 1468.4L1031.4 1468.3L1033.4 1468.2L1035.4 1468.2L1037.4 1468.1L1039.4 1468.1L1041.4 1468.0L1043.4 1468.0L1045.4 1467.9L1047.4 1467.9L1049.4 1467.8L1051.4 1467.8L1053.4 1467.8L1055.4 1467.9L1057.4 1468.4L1059.4 1469.8L1061.4 1476.5L1061.4 1476.5L1059.4 1483.3L1057.4 1484.8L1055.4 1485.4L1053.4 1485.6L1051.4 1485.7L1049.4 1485.8L1047.4 1485.8L1045.4 1485.9L1043.4 1485.9L1041.4 1486.0L1039.4 1486.0L1037.4 1486.1L1035.4 1486.1L1033.4 1486.2L1031.4 1486.2L1029.4 1486.2L1027.4 1486.1L1025.4 1485.6L1023.4 1484.2L1021.4 1477.5Z" fill="#000" filter="url(#b1)" opacity="1.0"/>
<path d="M1083.0 1474.5L1083.8 1469.4L1084.6 1468.1L1085.4 1467.5L1086.2 1467.2L1087.0 1467.1L1087.8 1467.0L1088.6 1467.0L1089.4 1467.0L1090.2 1467.0L1091.0 1467.0L1091.8 1467.0L1092.6 1467.0L1093.4 1467.0L1094.2 1467.0L1095.0 1467.1L1095.8 1467.2L1096.6 1467.5L1097.4 1468.1L1098.2 1469.4L1099.0 1474.5L1099.0 1474.5L1098.2 1479.6L1097.4 1480.9L1096.6 1481.5L1095.8 1481.8L1095.0 1481.9L1094.2 1482.0L1093.4 1482.0L1092.6 1482.0L1091.8 1482.0L1091.0 1482.0L1090.2 1482.0L1089.4 1482.0L1088.6 1482.0L1087.8 1482.0L1087.0 1481.9L1086.2 1481.8L1085.4 1481.5L1084.6 1480.9L1083.8 1479.6L1083.0 1474.5Z" fill="#000" filter="url(#b1)" opacity="1.0"/>
<path d="M1095.0 1475.0L1096.3 1467.6L1097.6 1465.9L1099.0 1465.1L1100.3 1464.9L1101.6 1464.8L1102.9 1464.9L1104.2 1465.1L1105.6 1465.2L1106.9 1465.4L1108.2 1465.5L1109.5 1465.7L1110.8 1465.8L1112.2 1466.0L1113.5 1466.1L1114.8 1466.3L1116.1 1466.7L1117.4 1467.2L1118.8 1468.3L1120.1 1470.3L1121.4 1478.0L1121.4 1478.0L1120.1 1485.4L1118.8 1487.1L1117.4 1487.9L1116.1 1488.1L1114.8 1488.2L1113.5 1488.1L1112.2 1487.9L1110.8 1487.8L1109.5 1487.6L1108.2 1487.5L1106.9 1487.3L1105.6 1487.2L1104.2 1487.0L1102.9 1486.9L1101.6 1486.7L1100.3 1486.3L1099.0 1485.8L1097.6 1484.7L1096.3 1482.7L1095.0 1475.0Z" fill="#000" filter="url(#b1)" opacity="1.0"/>
</g>
<rect x="785.1" y="1445.7" width="351.1" height="71.5" fill="none" stroke="#000" stroke-width="3.0"/>
<text x="740" y="1400" text-anchor="end" font-size="18.8" font-family="DejaVu Sans, Verdana, sans-serif" font-weight="bold" stroke="#000" stroke-width="0.9" stroke-linejoin="round">289kDa</text>
<text x="740" y="1493.3" text-anchor="end" font-size="18.8" font-family="DejaVu Sans, Verdana, sans-serif" font-weight="bold" stroke="#000" stroke-width="0.9" stroke-linejoin="round">289kDa</text>
<rect x="749.0" y="1390.0" width="27.0" height="7.5" fill="#000"/>
<rect x="749.0" y="1483.3" width="27.0" height="7.5" fill="#000"/>
<text x="1164.3" y="1404" font-size="22.4" font-family="DejaVu Sans, Verdana, sans-serif" font-weight="bold" stroke="#000" stroke-width="0.9" stroke-linejoin="round">p-mTOR</text>
<text x="1168.3" y="1495" font-size="22.4" font-family="DejaVu Sans, Verdana, sans-serif" font-weight="bold" stroke="#000" stroke-width="0.9" stroke-linejoin="round">mTOR</text>
<text x="747.7" y="1545" font-size="19.8" font-family="DejaVu Sans, Verdana, sans-serif" font-weight="bold" stroke="#000" stroke-width="0.9" stroke-linejoin="round">Fold</text>
<text x="815.7" y="1545" text-anchor="middle" font-size="19.8" font-family="DejaVu Sans, Verdana, sans-serif" font-weight="bold" stroke="#000" stroke-width="0.9" stroke-linejoin="round">1</text>
<text x="864" y="1543" text-anchor="middle" font-size="19.8" font-family="DejaVu Sans, Verdana, sans-serif" font-weight="bold" stroke="#000" stroke-width="0.9" stroke-linejoin="round">1.2</text>
<text x="925" y="1543" text-anchor="middle" font-size="19.8" font-family="DejaVu Sans, Verdana, sans-serif" font-weight="bold" stroke="#000" stroke-width="0.9" stroke-linejoin="round">1.4</text>
<text x="987.3" y="1543" text-anchor="middle" font-size="19.8" font-family="DejaVu Sans, Verdana, sans-serif" font-weight="bold" stroke="#000" stroke-width="0.9" stroke-linejoin="round">2.3</text>
<text x="1051.7" y="1541.7" text-anchor="middle" font-size="19.8" font-family="DejaVu Sans, Verdana, sans-serif" font-weight="bold" stroke="#000" stroke-width="0.9" stroke-linejoin="round">2.1</text>
<text x="1110" y="1541.7" text-anchor="middle" font-size="19.8" font-family="DejaVu Sans, Verdana, sans-serif" font-weight="bold" stroke="#000" stroke-width="0.9" stroke-linejoin="round">1.7</text>
</g>
<g id="panel-i">
<text transform="translate(1342.5 1275.0) scale(0.965 1)" font-size="42.5" font-family="Liberation Sans, Arial, sans-serif" font-weight="bold">i</text>
<text x="1759" y="1271.5" text-anchor="middle" font-size="24.8" font-family="Liberation Sans, Arial, sans-serif" font-weight="bold" stroke="#000" stroke-width="0.55" stroke-linejoin="round">CCN6</text>
<path d="M1647.8 1286.1H1886" stroke="#000" stroke-width="3.2" stroke-linecap="round"/>
<text transform="translate(1527.0 1385.3) rotate(-30)" font-size="26.2" font-family="Liberation Sans, Arial, sans-serif" font-weight="bold" stroke="#000" stroke-width="0.55" stroke-linejoin="round">Control</text>
<text transform="translate(1598.0 1384.0) rotate(-30)" font-size="25.2" font-family="Liberation Sans, Arial, sans-serif" font-weight="bold" stroke="#000" stroke-width="0.55" stroke-linejoin="round">WISP-3</text>
<text transform="translate(1665.0 1377.5) rotate(-28.5)" font-size="26.2" font-family="Liberation Sans, Arial, sans-serif" font-weight="bold" stroke="#000" stroke-width="0.55" stroke-linejoin="round">Ly294002</text>
<text transform="translate(1730.3 1387.1) rotate(-30)" font-size="26.2" font-family="Liberation Sans, Arial, sans-serif" font-weight="bold" stroke="#000" stroke-width="0.55" stroke-linejoin="round">Wortmannin</text>
<text transform="translate(1804.4 1384.1) rotate(-30)" font-size="26.2" font-family="Liberation Sans, Arial, sans-serif" font-weight="bold" stroke="#000" stroke-width="0.55" stroke-linejoin="round">Akt inhibitor</text>
<clipPath id="cp5"><rect x="1491.5" y="1408.4" width="347.5" height="69.4"/></clipPath>
<g clip-path="url(#cp5)">
<rect x="1490.5" y="1407.4" width="349.5" height="71.4" fill="#f1f1f1"/>
<rect x="1507.0" y="1414.0" width="43.0" height="32.0" fill="#b2b2b2" filter="url(#b2)" opacity="0.85"/>
<rect x="1516.0" y="1424.0" width="14.0" height="16.0" fill="#dedede" filter="url(#b2)" opacity="0.9"/>
<rect x="1535.0" y="1421.0" width="13.0" height="21.0" fill="#f0f0f0" filter="url(#b2)" opacity="0.95"/>
<path d="M1507.0 1444.5L1509.2 1443.5L1511.3 1443.2L1513.5 1443.0L1515.6 1442.9L1517.8 1442.8L1519.9 1442.8L1522.0 1442.8L1524.2 1442.8L1526.3 1442.8L1528.5 1442.8L1530.7 1442.8L1532.8 1442.8L1535.0 1442.8L1537.1 1442.8L1539.2 1442.8L1541.4 1442.9L1543.5 1443.0L1545.7 1443.2L1547.8 1443.5L1550.0 1444.5L1550.0 1444.5L1547.8 1445.5L1545.7 1445.8L1543.5 1446.0L1541.4 1446.1L1539.2 1446.2L1537.1 1446.2L1535.0 1446.2L1532.8 1446.2L1530.7 1446.2L1528.5 1446.2L1526.3 1446.2L1524.2 1446.2L1522.0 1446.2L1519.9 1446.2L1517.8 1446.2L1515.6 1446.1L1513.5 1446.0L1511.3 1445.8L1509.2 1445.5L1507.0 1444.5Z" fill="#9a9a9a" filter="url(#b1)" opacity="0.8"/>
<rect x="1575.0" y="1411.0" width="42.0" height="35.0" fill="#6a6a6a" filter="url(#b2)" opacity="0.92"/>
<rect x="1575.0" y="1446.0" width="42.0" height="33.0" fill="#d0d0d0" filter="url(#b3)" opacity="0.8"/>
<path d="M1574.0 1443.0L1576.2 1441.1L1578.4 1440.7L1580.6 1440.5L1582.8 1440.4L1585.0 1440.4L1587.2 1440.4L1589.4 1440.4L1591.6 1440.5L1593.8 1440.5L1596.0 1440.5L1598.2 1440.5L1600.4 1440.5L1602.6 1440.4L1604.8 1440.4L1607.0 1440.4L1609.2 1440.4L1611.4 1440.5L1613.6 1440.7L1615.8 1441.1L1618.0 1443.0L1618.0 1443.0L1615.8 1445.2L1613.6 1446.0L1611.4 1446.6L1609.2 1446.9L1607.0 1447.1L1604.8 1447.3L1602.6 1447.4L1600.4 1447.5L1598.2 1447.5L1596.0 1447.5L1593.8 1447.5L1591.6 1447.5L1589.4 1447.4L1587.2 1447.3L1585.0 1447.1L1582.8 1446.9L1580.6 1446.6L1578.4 1446.0L1576.2 1445.2L1574.0 1443.0Z" fill="#000" filter="url(#b1)" opacity="1.0"/>
<rect x="1644.0" y="1420.0" width="42.0" height="26.0" fill="#c6c6c6" filter="url(#b2)" opacity="0.85"/>
<path d="M1643.0 1444.5L1645.2 1443.6L1647.4 1443.3L1649.6 1443.2L1651.8 1443.1L1654.0 1443.0L1656.2 1443.0L1658.4 1443.0L1660.6 1443.0L1662.8 1443.0L1665.0 1443.0L1667.2 1443.0L1669.4 1443.0L1671.6 1443.0L1673.8 1443.0L1676.0 1443.0L1678.2 1443.1L1680.4 1443.2L1682.6 1443.3L1684.8 1443.6L1687.0 1444.5L1687.0 1444.5L1684.8 1445.4L1682.6 1445.7L1680.4 1445.8L1678.2 1445.9L1676.0 1446.0L1673.8 1446.0L1671.6 1446.0L1669.4 1446.0L1667.2 1446.0L1665.0 1446.0L1662.8 1446.0L1660.6 1446.0L1658.4 1446.0L1656.2 1446.0L1654.0 1446.0L1651.8 1445.9L1649.6 1445.8L1647.4 1445.7L1645.2 1445.4L1643.0 1444.5Z" fill="#b0b0b0" filter="url(#b1)" opacity="0.7"/>
<rect x="1710.0" y="1420.0" width="41.0" height="24.0" fill="#cacaca" filter="url(#b2)" opacity="0.85"/>
<path d="M1708.0 1446.0L1710.2 1444.8L1712.4 1444.3L1714.6 1444.0L1716.8 1443.7L1719.0 1443.6L1721.2 1443.4L1723.4 1443.3L1725.6 1443.3L1727.8 1443.3L1730.0 1443.2L1732.2 1443.3L1734.4 1443.3L1736.6 1443.3L1738.8 1443.4L1741.0 1443.6L1743.2 1443.7L1745.4 1444.0L1747.6 1444.3L1749.8 1444.8L1752.0 1446.0L1752.0 1446.0L1749.8 1446.8L1747.6 1447.0L1745.4 1447.0L1743.2 1447.0L1741.0 1446.9L1738.8 1446.9L1736.6 1446.8L1734.4 1446.8L1732.2 1446.8L1730.0 1446.8L1727.8 1446.8L1725.6 1446.8L1723.4 1446.8L1721.2 1446.9L1719.0 1446.9L1716.8 1447.0L1714.6 1447.0L1712.4 1447.0L1710.2 1446.8L1708.0 1446.0Z" fill="#888" filter="url(#b1)" opacity="0.85"/>
<rect x="1710.0" y="1449.0" width="41.0" height="6.0" fill="#d4d4d4" filter="url(#b2)" opacity="0.7"/>
<rect x="1779.0" y="1414.0" width="40.0" height="26.0" fill="#e2e2e2" filter="url(#b2)" opacity="0.8"/>
<path d="M1777.0 1443.8L1779.2 1442.6L1781.3 1442.3L1783.5 1442.2L1785.6 1442.2L1787.8 1442.2L1789.9 1442.2L1792.0 1442.3L1794.2 1442.4L1796.3 1442.4L1798.5 1442.5L1800.7 1442.5L1802.8 1442.6L1805.0 1442.6L1807.1 1442.6L1809.2 1442.7L1811.4 1442.8L1813.5 1442.9L1815.7 1443.1L1817.8 1443.5L1820.0 1444.8L1820.0 1444.8L1817.8 1446.1L1815.7 1446.6L1813.5 1446.8L1811.4 1447.0L1809.2 1447.1L1807.1 1447.1L1805.0 1447.1L1802.8 1447.1L1800.7 1447.0L1798.5 1447.0L1796.3 1446.9L1794.2 1446.9L1792.0 1446.8L1789.9 1446.7L1787.8 1446.6L1785.6 1446.4L1783.5 1446.1L1781.3 1445.8L1779.2 1445.2L1777.0 1443.8Z" fill="#111" filter="url(#b1)" opacity="1.0"/>
<rect x="1779.0" y="1449.0" width="40.0" height="7.0" fill="#d8d8d8" filter="url(#b2)" opacity="0.7"/>
</g>
<rect x="1491.9" y="1408.8" width="346.7" height="68.6" fill="none" stroke="#000" stroke-width="3.0"/>
<clipPath id="cp6"><rect x="1493.4" y="1492.2" width="346.6" height="68.5"/></clipPath>
<g clip-path="url(#cp6)">
<rect x="1492.4" y="1491.2" width="348.6" height="70.5" fill="#868686"/>
<rect x="1490.0" y="1490.0" width="352.0" height="30.0" fill="#929292" filter="url(#b6)" opacity="0.8"/>
<path d="M1523.8 1526.9L1526.0 1525.1L1528.3 1524.8L1530.5 1524.8L1532.8 1524.8L1535.0 1524.9L1537.2 1525.0L1539.5 1525.2L1541.7 1525.3L1544.0 1525.3L1546.2 1525.3L1548.4 1525.3L1550.7 1525.3L1552.9 1525.2L1555.2 1525.0L1557.4 1524.9L1559.6 1524.8L1561.9 1524.8L1564.1 1524.8L1566.4 1525.1L1568.6 1526.9L1568.6 1526.9L1566.4 1529.5L1564.1 1530.6L1561.9 1531.3L1559.6 1531.8L1557.4 1532.2L1555.2 1532.4L1552.9 1532.6L1550.7 1532.8L1548.4 1532.8L1546.2 1532.8L1544.0 1532.8L1541.7 1532.8L1539.5 1532.6L1537.2 1532.4L1535.0 1532.2L1532.8 1531.8L1530.5 1531.3L1528.3 1530.6L1526.0 1529.5L1523.8 1526.9Z" fill="#1e1e1e" filter="url(#b2)" opacity="0.92"/>
<path d="M1587.6 1527.4L1589.8 1525.6L1592.1 1525.3L1594.3 1525.3L1596.6 1525.3L1598.8 1525.4L1601.0 1525.5L1603.3 1525.7L1605.5 1525.8L1607.8 1525.8L1610.0 1525.8L1612.2 1525.8L1614.5 1525.8L1616.7 1525.7L1619.0 1525.5L1621.2 1525.4L1623.4 1525.3L1625.7 1525.3L1627.9 1525.3L1630.2 1525.6L1632.4 1527.4L1632.4 1527.4L1630.2 1530.0L1627.9 1531.1L1625.7 1531.8L1623.4 1532.3L1621.2 1532.7L1619.0 1532.9L1616.7 1533.1L1614.5 1533.3L1612.2 1533.3L1610.0 1533.3L1607.8 1533.3L1605.5 1533.3L1603.3 1533.1L1601.0 1532.9L1598.8 1532.7L1596.6 1532.3L1594.3 1531.8L1592.1 1531.1L1589.8 1530.0L1587.6 1527.4Z" fill="#1e1e1e" filter="url(#b2)" opacity="0.92"/>
<path d="M1650.5 1526.9L1652.7 1525.1L1655.0 1524.8L1657.2 1524.8L1659.4 1524.8L1661.7 1524.9L1663.9 1525.0L1666.1 1525.2L1668.4 1525.3L1670.6 1525.3L1672.8 1525.3L1675.1 1525.3L1677.3 1525.3L1679.6 1525.2L1681.8 1525.0L1684.0 1524.9L1686.3 1524.8L1688.5 1524.8L1690.7 1524.8L1693.0 1525.1L1695.2 1526.9L1695.2 1526.9L1693.0 1529.5L1690.7 1530.6L1688.5 1531.3L1686.3 1531.8L1684.0 1532.2L1681.8 1532.4L1679.6 1532.6L1677.3 1532.8L1675.1 1532.8L1672.8 1532.8L1670.6 1532.8L1668.4 1532.8L1666.1 1532.6L1663.9 1532.4L1661.7 1532.2L1659.4 1531.8L1657.2 1531.3L1655.0 1530.6L1652.7 1529.5L1650.5 1526.9Z" fill="#1e1e1e" filter="url(#b2)" opacity="0.92"/>
<path d="M1711.4 1526.4L1713.7 1524.6L1716.0 1524.3L1718.3 1524.3L1720.5 1524.3L1722.8 1524.4L1725.1 1524.5L1727.4 1524.7L1729.7 1524.8L1732.0 1524.8L1734.2 1524.8L1736.5 1524.8L1738.8 1524.8L1741.1 1524.7L1743.4 1524.5L1745.7 1524.4L1748.0 1524.3L1750.2 1524.3L1752.5 1524.3L1754.8 1524.6L1757.1 1526.4L1757.1 1526.4L1754.8 1529.0L1752.5 1530.1L1750.2 1530.8L1748.0 1531.3L1745.7 1531.7L1743.4 1531.9L1741.1 1532.1L1738.8 1532.3L1736.5 1532.3L1734.2 1532.3L1732.0 1532.3L1729.7 1532.3L1727.4 1532.1L1725.1 1531.9L1722.8 1531.7L1720.5 1531.3L1718.3 1530.8L1716.0 1530.1L1713.7 1529.0L1711.4 1526.4Z" fill="#1e1e1e" filter="url(#b2)" opacity="0.92"/>
<path d="M1776.2 1524.9L1778.5 1523.1L1780.8 1522.8L1783.1 1522.8L1785.3 1522.8L1787.6 1522.9L1789.9 1523.0L1792.2 1523.2L1794.5 1523.3L1796.8 1523.3L1799.1 1523.3L1801.3 1523.3L1803.6 1523.3L1805.9 1523.2L1808.2 1523.0L1810.5 1522.9L1812.8 1522.8L1815.0 1522.8L1817.3 1522.8L1819.6 1523.1L1821.9 1524.9L1821.9 1524.9L1819.6 1527.5L1817.3 1528.6L1815.0 1529.3L1812.8 1529.8L1810.5 1530.2L1808.2 1530.4L1805.9 1530.6L1803.6 1530.8L1801.3 1530.8L1799.1 1530.8L1796.8 1530.8L1794.5 1530.8L1792.2 1530.6L1789.9 1530.4L1787.6 1530.2L1785.3 1529.8L1783.1 1529.3L1780.8 1528.6L1778.5 1527.5L1776.2 1524.9Z" fill="#1e1e1e" filter="url(#b2)" opacity="0.92"/>
</g>
<rect x="1493.8" y="1492.6" width="345.8" height="67.7" fill="none" stroke="#000" stroke-width="3.0"/>
<text x="1445.7" y="1451" text-anchor="end" font-size="18.8" font-family="DejaVu Sans, Verdana, sans-serif" font-weight="bold" stroke="#000" stroke-width="0.9" stroke-linejoin="round">289kDa</text>
<text x="1449" y="1535" text-anchor="end" font-size="18.8" font-family="DejaVu Sans, Verdana, sans-serif" font-weight="bold" stroke="#000" stroke-width="0.9" stroke-linejoin="round">289kDa</text>
<rect x="1455.0" y="1441.7" width="27.3" height="7.6" fill="#000"/>
<rect x="1458.3" y="1525.7" width="26.7" height="7.6" fill="#000"/>
<text x="1867.7" y="1450" font-size="22.4" font-family="DejaVu Sans, Verdana, sans-serif" font-weight="bold" stroke="#000" stroke-width="0.9" stroke-linejoin="round">p-mTOR</text>
<text x="1871.7" y="1541.7" font-size="22.4" font-family="DejaVu Sans, Verdana, sans-serif" font-weight="bold" stroke="#000" stroke-width="0.9" stroke-linejoin="round">mTOR</text>
<text x="1456" y="1586" font-size="19.8" font-family="DejaVu Sans, Verdana, sans-serif" font-weight="bold" stroke="#000" stroke-width="0.9" stroke-linejoin="round">Fold</text>
<text x="1532.7" y="1582.7" text-anchor="middle" font-size="19.8" font-family="DejaVu Sans, Verdana, sans-serif" font-weight="bold" stroke="#000" stroke-width="0.9" stroke-linejoin="round">1</text>
<text x="1595" y="1582.7" text-anchor="middle" font-size="19.8" font-family="DejaVu Sans, Verdana, sans-serif" font-weight="bold" stroke="#000" stroke-width="0.9" stroke-linejoin="round">2.6</text>
<text x="1666" y="1582.7" text-anchor="middle" font-size="19.8" font-family="DejaVu Sans, Verdana, sans-serif" font-weight="bold" stroke="#000" stroke-width="0.9" stroke-linejoin="round">1.4</text>
<text x="1734" y="1582.7" text-anchor="middle" font-size="19.8" font-family="DejaVu Sans, Verdana, sans-serif" font-weight="bold" stroke="#000" stroke-width="0.9" stroke-linejoin="round">1.3</text>
<text x="1803.3" y="1582.7" text-anchor="middle" font-size="19.8" font-family="DejaVu Sans, Verdana, sans-serif" font-weight="bold" stroke="#000" stroke-width="0.9" stroke-linejoin="round">1.6</text>
</g>
</g>
</svg>
</body></html>
